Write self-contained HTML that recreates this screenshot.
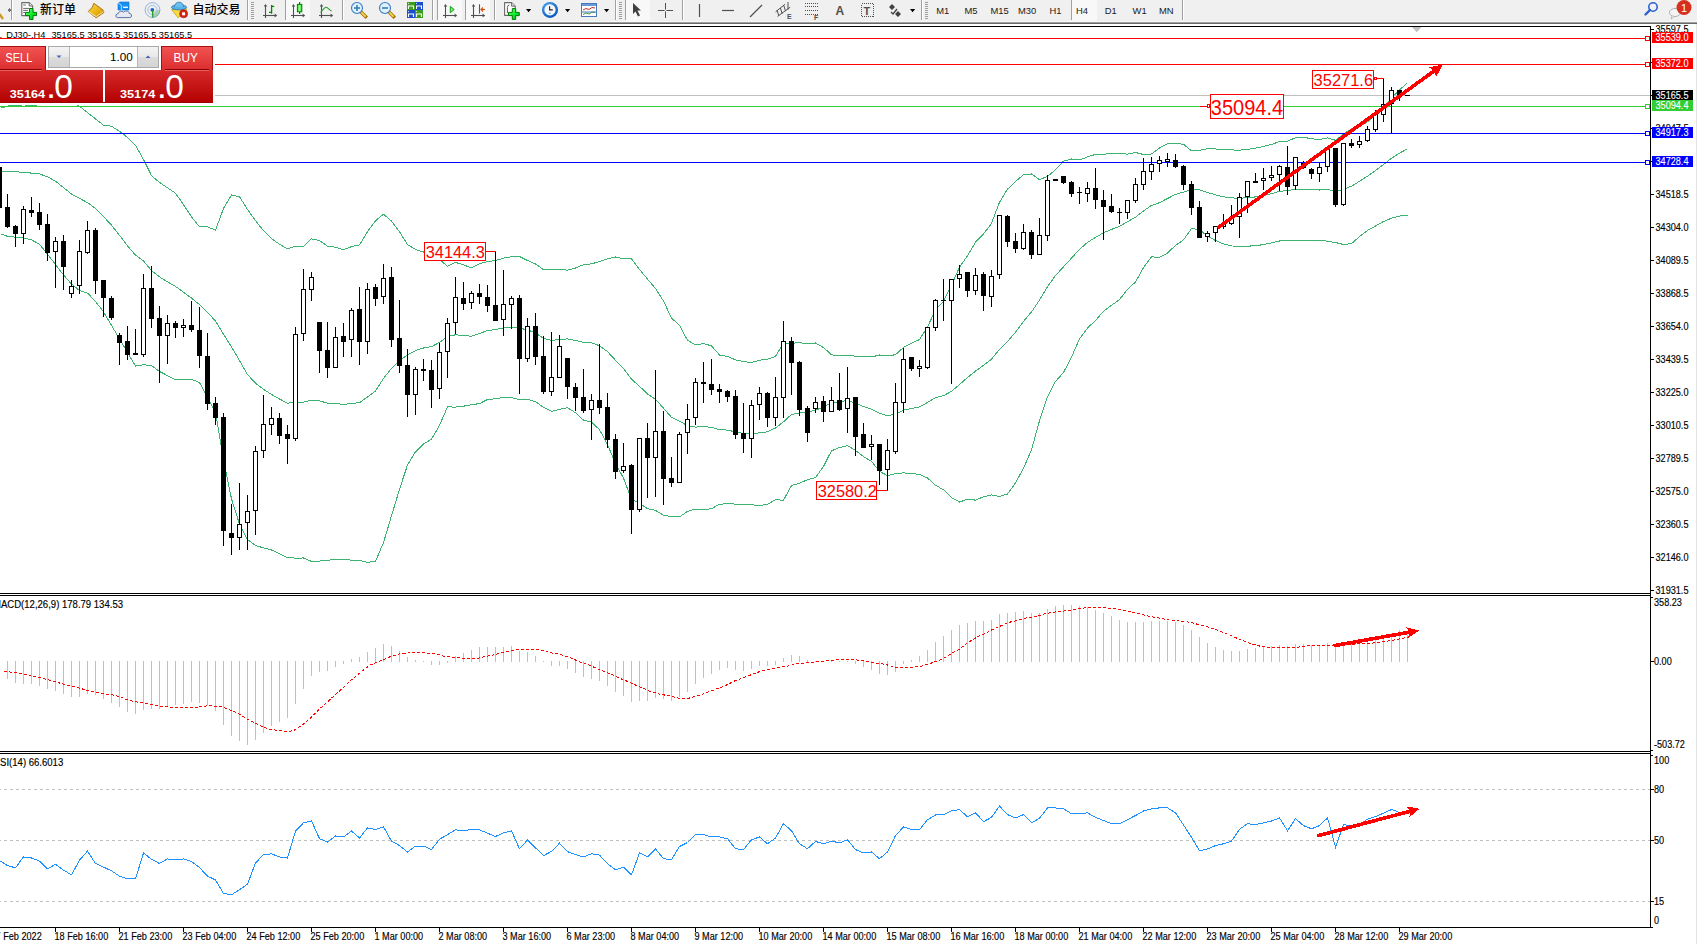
<!DOCTYPE html>
<html><head><meta charset="utf-8"><title>MT4 DJ30 H4</title>
<style>
html,body{margin:0;padding:0;background:#fff;}
body{width:1697px;height:944px;overflow:hidden;position:relative;}
svg{position:absolute;left:0;top:0;display:block;}
</style></head>
<body>
<svg width="1697" height="944" viewBox="0 0 1697 944">
<rect x="0" y="0" width="1697" height="944" fill="#fff"/>
<text x="-0.6" y="38.4" font-family="'Liberation Sans', Arial, sans-serif" font-size="9.7px" fill="#000">.</text>
<text x="6.3" y="38.4" textLength="39" lengthAdjust="spacingAndGlyphs" font-family="'Liberation Sans', Arial, sans-serif" font-size="9.7px" fill="#000">DJ30-,H4</text>
<text x="51.4" y="38.4" textLength="140.7" lengthAdjust="spacingAndGlyphs" font-family="'Liberation Sans', Arial, sans-serif" font-size="9.7px" fill="#000">35165.5 35165.5 35165.5 35165.5</text>
<g shape-rendering="crispEdges">
<polyline points="0.5,171.0 7.5,171.3 15.5,171.8 23.5,172.3 31.5,173.1 39.5,173.9 47.5,176.8 55.5,181.2 63.5,187.6 71.5,194.0 79.5,198.4 87.5,202.6 95.5,208.6 103.5,216.6 111.5,225.2 119.5,235.3 127.5,245.8 135.5,255.1 143.5,261.1 151.5,270.6 159.5,276.9 167.5,281.8 175.5,286.4 183.5,292.2 191.5,298.1 199.5,304.6 207.5,312.2 215.5,321.1 223.5,334.2 231.5,346.9 239.5,360.5 247.5,374.6 255.5,383.1 263.5,389.4 271.5,394.4 279.5,399.0 287.5,403.2 295.5,402.1 303.5,402.2 311.5,400.1 319.5,400.9 327.5,403.1 335.5,403.6 343.5,404.4 351.5,403.4 359.5,402.7 367.5,396.9 375.5,391.0 383.5,378.4 391.5,368.4 399.5,360.6 407.5,354.8 415.5,350.6 423.5,348.0 431.5,346.6 439.5,342.4 447.5,336.6 455.5,334.8 463.5,335.5 471.5,336.3 479.5,333.6 487.5,330.5 495.5,329.7 503.5,327.8 511.5,327.2 519.5,328.1 527.5,329.9 535.5,332.8 543.5,338.5 551.5,340.4 559.5,339.4 567.5,338.9 575.5,340.4 583.5,342.4 591.5,342.9 599.5,345.7 607.5,351.6 615.5,360.3 623.5,368.4 631.5,379.2 639.5,386.3 647.5,393.9 655.5,399.4 663.5,408.1 671.5,417.4 679.5,421.1 687.5,425.8 695.5,427.1 703.5,426.6 711.5,427.3 719.5,429.6 727.5,430.1 735.5,431.9 743.5,433.4 751.5,433.6 759.5,432.9 767.5,431.8 775.5,428.0 783.5,421.8 791.5,414.4 799.5,413.0 807.5,411.8 815.5,410.3 823.5,406.9 831.5,402.8 839.5,401.6 847.5,400.6 855.5,403.3 863.5,406.5 871.5,409.2 879.5,413.1 887.5,415.8 895.5,414.1 903.5,410.1 911.5,408.4 919.5,407.0 927.5,402.4 935.5,397.6 943.5,395.6 951.5,391.4 959.5,384.6 967.5,377.5 975.5,371.1 983.5,365.4 991.5,359.1 999.5,349.4 1007.5,341.6 1015.5,332.2 1023.5,321.4 1031.5,311.9 1039.5,300.1 1047.5,286.6 1055.5,275.6 1063.5,266.8 1071.5,258.1 1079.5,249.4 1087.5,242.4 1095.5,237.4 1103.5,232.8 1111.5,229.4 1119.5,226.3 1127.5,221.8 1135.5,217.2 1143.5,211.0 1151.5,205.4 1159.5,202.7 1167.5,198.5 1175.5,194.4 1183.5,192.1 1191.5,189.7 1199.5,189.8 1207.5,192.5 1215.5,194.8 1223.5,196.8 1231.5,197.9 1239.5,198.2 1247.5,197.8 1255.5,196.9 1263.5,195.5 1271.5,193.7 1279.5,191.3 1287.5,190.7 1295.5,189.3 1303.5,189.2 1311.5,189.7 1319.5,190.0 1327.5,189.5 1335.5,191.4 1343.5,189.3 1351.5,186.2 1359.5,181.3 1367.5,176.2 1375.5,170.6 1383.5,164.6 1391.5,158.2 1399.5,153.1 1407.5,148.8" fill="none" stroke="#3cb371" stroke-width="1" />
<polyline points="0.5,233.8 7.5,236.4 15.5,237.2 23.5,238.0 31.5,239.8 39.5,244.3 47.5,254.1 55.5,264.6 63.5,274.9 71.5,284.0 79.5,290.5 87.5,293.1 95.5,301.4 103.5,311.9 111.5,325.4 119.5,339.0 127.5,352.5 135.5,366.1 143.5,364.8 151.5,365.5 159.5,371.5 167.5,375.6 175.5,379.7 183.5,379.9 191.5,379.4 199.5,382.5 207.5,397.6 215.5,411.9 223.5,460.1 231.5,498.8 239.5,524.3 247.5,539.6 255.5,545.5 263.5,547.9 271.5,550.0 279.5,553.8 287.5,557.6 295.5,558.1 303.5,558.0 311.5,561.4 319.5,561.1 327.5,560.1 335.5,559.8 343.5,559.1 351.5,560.2 359.5,560.5 367.5,562.3 375.5,561.3 383.5,542.5 391.5,515.8 399.5,489.3 407.5,464.9 415.5,451.8 423.5,444.0 431.5,439.2 439.5,425.4 447.5,406.9 455.5,407.1 463.5,406.2 471.5,404.7 479.5,403.6 487.5,399.5 495.5,398.8 503.5,397.5 511.5,397.6 519.5,399.6 527.5,399.3 535.5,401.7 543.5,407.3 551.5,411.3 559.5,409.3 567.5,407.7 575.5,412.8 583.5,420.1 591.5,422.0 599.5,429.7 607.5,444.4 615.5,463.6 623.5,478.1 631.5,499.6 639.5,503.1 647.5,508.7 655.5,510.3 663.5,515.3 671.5,516.7 679.5,517.0 687.5,511.3 695.5,509.2 703.5,509.6 711.5,508.8 719.5,504.2 727.5,503.7 735.5,504.1 743.5,505.0 751.5,504.8 759.5,505.4 767.5,504.4 775.5,499.6 783.5,500.3 791.5,485.5 799.5,483.3 807.5,479.6 815.5,477.6 823.5,466.4 831.5,450.8 839.5,447.5 847.5,445.7 855.5,450.4 863.5,456.6 871.5,461.4 879.5,471.3 887.5,475.7 895.5,473.6 903.5,472.9 911.5,473.5 919.5,474.4 927.5,478.0 935.5,485.2 943.5,489.8 951.5,497.7 959.5,502.0 967.5,499.3 975.5,500.1 983.5,496.7 991.5,494.9 999.5,496.6 1007.5,494.0 1015.5,482.9 1023.5,468.2 1031.5,449.9 1039.5,420.7 1047.5,396.9 1055.5,381.4 1063.5,372.5 1071.5,357.1 1079.5,338.8 1087.5,328.0 1095.5,320.5 1103.5,311.2 1111.5,305.3 1119.5,299.6 1127.5,289.4 1135.5,282.0 1143.5,267.5 1151.5,256.8 1159.5,257.4 1167.5,253.1 1175.5,245.3 1183.5,239.9 1191.5,228.6 1199.5,229.5 1207.5,236.2 1215.5,240.5 1223.5,243.9 1231.5,246.0 1239.5,246.1 1247.5,246.2 1255.5,245.7 1263.5,244.6 1271.5,242.9 1279.5,241.0 1287.5,240.2 1295.5,240.9 1303.5,240.9 1311.5,240.7 1319.5,240.3 1327.5,241.2 1335.5,242.5 1343.5,244.5 1351.5,243.6 1359.5,236.6 1367.5,230.4 1375.5,226.0 1383.5,221.5 1391.5,218.2 1399.5,216.1 1407.5,215.1" fill="none" stroke="#3cb371" stroke-width="1" />
<polyline points="0.5,107.5 3.5,107.5 5.5,106.5 11.5,105.5 20.5,105.5 23.5,106.5 27.5,105.5 35.5,105.5 38.5,106.5 76.5,106.5 78.5,105.5 80.0,106.5 87.5,112.6 95.5,118.9 103.5,125.2 111.5,126.2 119.5,131.3 127.5,137.4 135.5,145.3 143.5,159.5 151.5,175.6 159.5,182.4 167.5,187.9 175.5,193.2 183.5,204.6 191.5,216.8 199.5,226.8 207.5,226.8 215.5,230.2 223.5,208.4 231.5,194.9 239.5,196.7 247.5,209.5 255.5,220.6 263.5,230.8 271.5,238.7 279.5,244.2 287.5,248.8 295.5,246.2 303.5,246.4 311.5,238.8 319.5,240.6 327.5,246.1 335.5,247.3 343.5,249.7 351.5,246.6 359.5,244.9 367.5,231.6 375.5,220.7 383.5,214.2 391.5,221.1 399.5,231.8 407.5,244.6 415.5,249.5 423.5,252.0 431.5,254.0 439.5,259.4 447.5,266.3 455.5,262.4 463.5,264.8 471.5,267.9 479.5,263.6 487.5,261.5 495.5,260.6 503.5,258.1 511.5,256.8 519.5,256.5 527.5,260.5 535.5,263.9 543.5,269.7 551.5,269.4 559.5,269.4 567.5,270.2 575.5,268.0 583.5,264.7 591.5,263.8 599.5,261.7 607.5,258.7 615.5,257.0 623.5,258.7 631.5,258.9 639.5,269.5 647.5,279.1 655.5,288.5 663.5,301.0 671.5,318.1 679.5,325.3 687.5,340.3 695.5,344.9 703.5,343.7 711.5,345.8 719.5,355.0 727.5,356.5 735.5,359.8 743.5,361.7 751.5,362.4 759.5,360.3 767.5,359.1 775.5,356.4 783.5,343.2 791.5,343.3 799.5,342.7 807.5,343.9 815.5,343.0 823.5,347.5 831.5,354.8 839.5,355.7 847.5,355.4 855.5,356.2 863.5,356.4 871.5,357.0 879.5,355.0 887.5,355.9 895.5,354.7 903.5,347.4 911.5,343.2 919.5,339.6 927.5,326.9 935.5,310.0 943.5,301.4 951.5,285.1 959.5,267.2 967.5,255.7 975.5,242.2 983.5,234.0 991.5,223.4 999.5,202.2 1007.5,189.2 1015.5,181.5 1023.5,174.6 1031.5,174.0 1039.5,179.6 1047.5,176.4 1055.5,169.8 1063.5,161.1 1071.5,159.0 1079.5,160.0 1087.5,156.9 1095.5,154.4 1103.5,154.3 1111.5,153.5 1119.5,153.1 1127.5,154.2 1135.5,152.5 1143.5,154.5 1151.5,154.0 1159.5,147.9 1167.5,143.9 1175.5,143.5 1183.5,144.2 1191.5,150.8 1199.5,150.2 1207.5,148.8 1215.5,149.0 1223.5,149.6 1231.5,149.9 1239.5,150.2 1247.5,149.4 1255.5,148.2 1263.5,146.4 1271.5,144.4 1279.5,141.6 1287.5,141.1 1295.5,137.7 1303.5,137.4 1311.5,138.6 1319.5,139.7 1327.5,137.8 1335.5,140.3 1343.5,134.1 1351.5,128.8 1359.5,126.1 1367.5,121.9 1375.5,115.1 1383.5,107.7 1391.5,98.2 1399.5,90.1 1407.5,82.5" fill="none" stroke="#3cb371" stroke-width="1" />
</g>
<g shape-rendering="crispEdges">
<rect x="0" y="38" width="1650" height="1" fill="#ff0000"/>
<rect x="0" y="64" width="1650" height="1" fill="#ff0000"/>
<rect x="0" y="95" width="1650" height="1" fill="#c0c0c0"/>
<rect x="0" y="106" width="1650" height="1" fill="#32cd32"/>
<rect x="0" y="133" width="1650" height="1" fill="#0000ff"/>
<rect x="0" y="162" width="1650" height="1" fill="#0000ff"/>
</g>
<g shape-rendering="crispEdges">
<rect x="-1" y="160" width="1" height="50" fill="#000"/>
<rect x="-3" y="167" width="5" height="41" fill="#000"/>
<rect x="7" y="194" width="1" height="34" fill="#000"/>
<rect x="5" y="207" width="5" height="20" fill="#000"/>
<rect x="15" y="225" width="1" height="22" fill="#000"/>
<rect x="13" y="226" width="5" height="8" fill="#000"/>
<rect x="23" y="206" width="1" height="38" fill="#000"/>
<rect x="21.5" y="209.5" width="4" height="24" fill="#fff" stroke="#000" stroke-width="1"/>
<rect x="31" y="197" width="1" height="20" fill="#000"/>
<rect x="29" y="210" width="5" height="3" fill="#000"/>
<rect x="39" y="203" width="1" height="27" fill="#000"/>
<rect x="37" y="212" width="5" height="13" fill="#000"/>
<rect x="47" y="214" width="1" height="47" fill="#000"/>
<rect x="45" y="224" width="5" height="29" fill="#000"/>
<rect x="55" y="237" width="1" height="51" fill="#000"/>
<rect x="53.5" y="241.5" width="4" height="10" fill="#fff" stroke="#000" stroke-width="1"/>
<rect x="63" y="235" width="1" height="55" fill="#000"/>
<rect x="61" y="241" width="5" height="26" fill="#000"/>
<rect x="71" y="280" width="1" height="18" fill="#000"/>
<rect x="69.5" y="286.5" width="4" height="7" fill="#fff" stroke="#000" stroke-width="1"/>
<rect x="79" y="240" width="1" height="54" fill="#000"/>
<rect x="77.5" y="251.5" width="4" height="34" fill="#fff" stroke="#000" stroke-width="1"/>
<rect x="87" y="221" width="1" height="33" fill="#000"/>
<rect x="85.5" y="230.5" width="4" height="22" fill="#fff" stroke="#000" stroke-width="1"/>
<rect x="95" y="228" width="1" height="66" fill="#000"/>
<rect x="93" y="230" width="5" height="51" fill="#000"/>
<rect x="103" y="280" width="1" height="37" fill="#000"/>
<rect x="101" y="280" width="5" height="18" fill="#000"/>
<rect x="111" y="296" width="1" height="24" fill="#000"/>
<rect x="109" y="298" width="5" height="20" fill="#000"/>
<rect x="119" y="333" width="1" height="32" fill="#000"/>
<rect x="117" y="335" width="5" height="8" fill="#000"/>
<rect x="127" y="326" width="1" height="34" fill="#000"/>
<rect x="125" y="341" width="5" height="14" fill="#000"/>
<rect x="135" y="329" width="1" height="26" fill="#000"/>
<rect x="133" y="353" width="5" height="2" fill="#000"/>
<rect x="143" y="274" width="1" height="83" fill="#000"/>
<rect x="141.5" y="288.5" width="4" height="66" fill="#fff" stroke="#000" stroke-width="1"/>
<rect x="151" y="266" width="1" height="62" fill="#000"/>
<rect x="149" y="288" width="5" height="31" fill="#000"/>
<rect x="159" y="306" width="1" height="77" fill="#000"/>
<rect x="157" y="318" width="5" height="18" fill="#000"/>
<rect x="167" y="315" width="1" height="49" fill="#000"/>
<rect x="165.5" y="323.5" width="4" height="12" fill="#fff" stroke="#000" stroke-width="1"/>
<rect x="175" y="321" width="1" height="17" fill="#000"/>
<rect x="173" y="323" width="5" height="5" fill="#000"/>
<rect x="183" y="319" width="1" height="18" fill="#000"/>
<rect x="181.5" y="325.5" width="4" height="2" fill="#fff" stroke="#000" stroke-width="1"/>
<rect x="191" y="301" width="1" height="31" fill="#000"/>
<rect x="189" y="325" width="5" height="5" fill="#000"/>
<rect x="199" y="307" width="1" height="61" fill="#000"/>
<rect x="197" y="330" width="5" height="26" fill="#000"/>
<rect x="207" y="333" width="1" height="77" fill="#000"/>
<rect x="205" y="356" width="5" height="48" fill="#000"/>
<rect x="215" y="397" width="1" height="28" fill="#000"/>
<rect x="213" y="403" width="5" height="15" fill="#000"/>
<rect x="223" y="413" width="1" height="133" fill="#000"/>
<rect x="221" y="417" width="5" height="114" fill="#000"/>
<rect x="231" y="504" width="1" height="51" fill="#000"/>
<rect x="229" y="533" width="5" height="5" fill="#000"/>
<rect x="239" y="483" width="1" height="67" fill="#000"/>
<rect x="237.5" y="524.5" width="4" height="13" fill="#fff" stroke="#000" stroke-width="1"/>
<rect x="247" y="495" width="1" height="55" fill="#000"/>
<rect x="245.5" y="511.5" width="4" height="11" fill="#fff" stroke="#000" stroke-width="1"/>
<rect x="255" y="446" width="1" height="89" fill="#000"/>
<rect x="253.5" y="451.5" width="4" height="59" fill="#fff" stroke="#000" stroke-width="1"/>
<rect x="263" y="395" width="1" height="63" fill="#000"/>
<rect x="261.5" y="424.5" width="4" height="26" fill="#fff" stroke="#000" stroke-width="1"/>
<rect x="271" y="407" width="1" height="28" fill="#000"/>
<rect x="269.5" y="418.5" width="4" height="6" fill="#fff" stroke="#000" stroke-width="1"/>
<rect x="279" y="413" width="1" height="31" fill="#000"/>
<rect x="277" y="418" width="5" height="18" fill="#000"/>
<rect x="287" y="425" width="1" height="39" fill="#000"/>
<rect x="285" y="434" width="5" height="5" fill="#000"/>
<rect x="295" y="327" width="1" height="114" fill="#000"/>
<rect x="293.5" y="334.5" width="4" height="104" fill="#fff" stroke="#000" stroke-width="1"/>
<rect x="303" y="269" width="1" height="72" fill="#000"/>
<rect x="301.5" y="289.5" width="4" height="44" fill="#fff" stroke="#000" stroke-width="1"/>
<rect x="311" y="272" width="1" height="29" fill="#000"/>
<rect x="309.5" y="277.5" width="4" height="12" fill="#fff" stroke="#000" stroke-width="1"/>
<rect x="319" y="322" width="1" height="51" fill="#000"/>
<rect x="317" y="322" width="5" height="29" fill="#000"/>
<rect x="327" y="322" width="1" height="56" fill="#000"/>
<rect x="325" y="350" width="5" height="18" fill="#000"/>
<rect x="335" y="327" width="1" height="41" fill="#000"/>
<rect x="333.5" y="337.5" width="4" height="30" fill="#fff" stroke="#000" stroke-width="1"/>
<rect x="343" y="323" width="1" height="34" fill="#000"/>
<rect x="341" y="336" width="5" height="6" fill="#000"/>
<rect x="351" y="308" width="1" height="49" fill="#000"/>
<rect x="349.5" y="310.5" width="4" height="29" fill="#fff" stroke="#000" stroke-width="1"/>
<rect x="359" y="287" width="1" height="78" fill="#000"/>
<rect x="357" y="309" width="5" height="33" fill="#000"/>
<rect x="367" y="283" width="1" height="71" fill="#000"/>
<rect x="365.5" y="289.5" width="4" height="52" fill="#fff" stroke="#000" stroke-width="1"/>
<rect x="375" y="284" width="1" height="22" fill="#000"/>
<rect x="373" y="287" width="5" height="12" fill="#000"/>
<rect x="383" y="264" width="1" height="40" fill="#000"/>
<rect x="381.5" y="278.5" width="4" height="18" fill="#fff" stroke="#000" stroke-width="1"/>
<rect x="391" y="267" width="1" height="80" fill="#000"/>
<rect x="389" y="277" width="5" height="63" fill="#000"/>
<rect x="399" y="300" width="1" height="73" fill="#000"/>
<rect x="397" y="338" width="5" height="28" fill="#000"/>
<rect x="407" y="349" width="1" height="68" fill="#000"/>
<rect x="405" y="365" width="5" height="30" fill="#000"/>
<rect x="415" y="367" width="1" height="48" fill="#000"/>
<rect x="413.5" y="369.5" width="4" height="25" fill="#fff" stroke="#000" stroke-width="1"/>
<rect x="423" y="359" width="1" height="22" fill="#000"/>
<rect x="421" y="369" width="5" height="2" fill="#000"/>
<rect x="431" y="360" width="1" height="48" fill="#000"/>
<rect x="429" y="370" width="5" height="20" fill="#000"/>
<rect x="439" y="343" width="1" height="56" fill="#000"/>
<rect x="437.5" y="352.5" width="4" height="36" fill="#fff" stroke="#000" stroke-width="1"/>
<rect x="447" y="318" width="1" height="60" fill="#000"/>
<rect x="445.5" y="323.5" width="4" height="28" fill="#fff" stroke="#000" stroke-width="1"/>
<rect x="455" y="277" width="1" height="57" fill="#000"/>
<rect x="453.5" y="297.5" width="4" height="25" fill="#fff" stroke="#000" stroke-width="1"/>
<rect x="463" y="282" width="1" height="28" fill="#000"/>
<rect x="461" y="298" width="5" height="6" fill="#000"/>
<rect x="471" y="291" width="1" height="18" fill="#000"/>
<rect x="469.5" y="293.5" width="4" height="9" fill="#fff" stroke="#000" stroke-width="1"/>
<rect x="479" y="284" width="1" height="20" fill="#000"/>
<rect x="477" y="293" width="5" height="4" fill="#000"/>
<rect x="487" y="285" width="1" height="27" fill="#000"/>
<rect x="485" y="297" width="5" height="9" fill="#000"/>
<rect x="495" y="251" width="1" height="70" fill="#000"/>
<rect x="493" y="305" width="5" height="16" fill="#000"/>
<rect x="503" y="270" width="1" height="66" fill="#000"/>
<rect x="501.5" y="304.5" width="4" height="15" fill="#fff" stroke="#000" stroke-width="1"/>
<rect x="511" y="296" width="1" height="33" fill="#000"/>
<rect x="509.5" y="298.5" width="4" height="6" fill="#fff" stroke="#000" stroke-width="1"/>
<rect x="519" y="295" width="1" height="99" fill="#000"/>
<rect x="517" y="298" width="5" height="61" fill="#000"/>
<rect x="527" y="318" width="1" height="44" fill="#000"/>
<rect x="525.5" y="326.5" width="4" height="32" fill="#fff" stroke="#000" stroke-width="1"/>
<rect x="535" y="313" width="1" height="52" fill="#000"/>
<rect x="533" y="326" width="5" height="31" fill="#000"/>
<rect x="543" y="336" width="1" height="58" fill="#000"/>
<rect x="541" y="356" width="5" height="36" fill="#000"/>
<rect x="551" y="332" width="1" height="64" fill="#000"/>
<rect x="549.5" y="377.5" width="4" height="14" fill="#fff" stroke="#000" stroke-width="1"/>
<rect x="559" y="335" width="1" height="43" fill="#000"/>
<rect x="557.5" y="346.5" width="4" height="31" fill="#fff" stroke="#000" stroke-width="1"/>
<rect x="567" y="358" width="1" height="41" fill="#000"/>
<rect x="565" y="358" width="5" height="29" fill="#000"/>
<rect x="575" y="383" width="1" height="28" fill="#000"/>
<rect x="573" y="387" width="5" height="11" fill="#000"/>
<rect x="583" y="369" width="1" height="44" fill="#000"/>
<rect x="581" y="397" width="5" height="14" fill="#000"/>
<rect x="591" y="394" width="1" height="46" fill="#000"/>
<rect x="589.5" y="400.5" width="4" height="9" fill="#fff" stroke="#000" stroke-width="1"/>
<rect x="599" y="344" width="1" height="70" fill="#000"/>
<rect x="597" y="400" width="5" height="8" fill="#000"/>
<rect x="607" y="393" width="1" height="55" fill="#000"/>
<rect x="605" y="407" width="5" height="33" fill="#000"/>
<rect x="615" y="434" width="1" height="45" fill="#000"/>
<rect x="613" y="439" width="5" height="33" fill="#000"/>
<rect x="623" y="443" width="1" height="30" fill="#000"/>
<rect x="621.5" y="466.5" width="4" height="4" fill="#fff" stroke="#000" stroke-width="1"/>
<rect x="631" y="464" width="1" height="70" fill="#000"/>
<rect x="629" y="465" width="5" height="45" fill="#000"/>
<rect x="639" y="438" width="1" height="74" fill="#000"/>
<rect x="637.5" y="438.5" width="4" height="71" fill="#fff" stroke="#000" stroke-width="1"/>
<rect x="647" y="423" width="1" height="75" fill="#000"/>
<rect x="645" y="438" width="5" height="20" fill="#000"/>
<rect x="655" y="370" width="1" height="127" fill="#000"/>
<rect x="653.5" y="431.5" width="4" height="26" fill="#fff" stroke="#000" stroke-width="1"/>
<rect x="663" y="411" width="1" height="94" fill="#000"/>
<rect x="661" y="431" width="5" height="48" fill="#000"/>
<rect x="671" y="457" width="1" height="30" fill="#000"/>
<rect x="669" y="478" width="5" height="5" fill="#000"/>
<rect x="679" y="432" width="1" height="51" fill="#000"/>
<rect x="677.5" y="434.5" width="4" height="48" fill="#fff" stroke="#000" stroke-width="1"/>
<rect x="687" y="404" width="1" height="50" fill="#000"/>
<rect x="685.5" y="419.5" width="4" height="13" fill="#fff" stroke="#000" stroke-width="1"/>
<rect x="695" y="378" width="1" height="47" fill="#000"/>
<rect x="693.5" y="382.5" width="4" height="35" fill="#fff" stroke="#000" stroke-width="1"/>
<rect x="703" y="362" width="1" height="41" fill="#000"/>
<rect x="701" y="382" width="5" height="2" fill="#000"/>
<rect x="711" y="359" width="1" height="36" fill="#000"/>
<rect x="709" y="384" width="5" height="6" fill="#000"/>
<rect x="719" y="384" width="1" height="19" fill="#000"/>
<rect x="717" y="389" width="5" height="3" fill="#000"/>
<rect x="727" y="390" width="1" height="12" fill="#000"/>
<rect x="725" y="391" width="5" height="6" fill="#000"/>
<rect x="735" y="390" width="1" height="49" fill="#000"/>
<rect x="733" y="396" width="5" height="39" fill="#000"/>
<rect x="743" y="403" width="1" height="50" fill="#000"/>
<rect x="741" y="433" width="5" height="6" fill="#000"/>
<rect x="751" y="400" width="1" height="58" fill="#000"/>
<rect x="749.5" y="405.5" width="4" height="33" fill="#fff" stroke="#000" stroke-width="1"/>
<rect x="759" y="387" width="1" height="33" fill="#000"/>
<rect x="757.5" y="393.5" width="4" height="11" fill="#fff" stroke="#000" stroke-width="1"/>
<rect x="767" y="392" width="1" height="35" fill="#000"/>
<rect x="765" y="393" width="5" height="25" fill="#000"/>
<rect x="775" y="377" width="1" height="49" fill="#000"/>
<rect x="773.5" y="397.5" width="4" height="20" fill="#fff" stroke="#000" stroke-width="1"/>
<rect x="783" y="321" width="1" height="97" fill="#000"/>
<rect x="781.5" y="341.5" width="4" height="56" fill="#fff" stroke="#000" stroke-width="1"/>
<rect x="791" y="337" width="1" height="58" fill="#000"/>
<rect x="789" y="341" width="5" height="22" fill="#000"/>
<rect x="799" y="361" width="1" height="55" fill="#000"/>
<rect x="797" y="362" width="5" height="48" fill="#000"/>
<rect x="807" y="406" width="1" height="36" fill="#000"/>
<rect x="805" y="408" width="5" height="25" fill="#000"/>
<rect x="815" y="397" width="1" height="16" fill="#000"/>
<rect x="813.5" y="402.5" width="4" height="6" fill="#fff" stroke="#000" stroke-width="1"/>
<rect x="823" y="396" width="1" height="26" fill="#000"/>
<rect x="821" y="401" width="5" height="11" fill="#000"/>
<rect x="831" y="387" width="1" height="25" fill="#000"/>
<rect x="829.5" y="400.5" width="4" height="11" fill="#fff" stroke="#000" stroke-width="1"/>
<rect x="839" y="373" width="1" height="38" fill="#000"/>
<rect x="837" y="400" width="5" height="10" fill="#000"/>
<rect x="847" y="367" width="1" height="66" fill="#000"/>
<rect x="845.5" y="398.5" width="4" height="10" fill="#fff" stroke="#000" stroke-width="1"/>
<rect x="855" y="397" width="1" height="59" fill="#000"/>
<rect x="853" y="397" width="5" height="40" fill="#000"/>
<rect x="863" y="423" width="1" height="25" fill="#000"/>
<rect x="861" y="434" width="5" height="14" fill="#000"/>
<rect x="871" y="435" width="1" height="25" fill="#000"/>
<rect x="869.5" y="444.5" width="4" height="2" fill="#fff" stroke="#000" stroke-width="1"/>
<rect x="879" y="444" width="1" height="41" fill="#000"/>
<rect x="877" y="444" width="5" height="27" fill="#000"/>
<rect x="887" y="439" width="1" height="51" fill="#000"/>
<rect x="885.5" y="450.5" width="4" height="19" fill="#fff" stroke="#000" stroke-width="1"/>
<rect x="895" y="383" width="1" height="71" fill="#000"/>
<rect x="893.5" y="402.5" width="4" height="49" fill="#fff" stroke="#000" stroke-width="1"/>
<rect x="903" y="348" width="1" height="65" fill="#000"/>
<rect x="901.5" y="359.5" width="4" height="43" fill="#fff" stroke="#000" stroke-width="1"/>
<rect x="911" y="357" width="1" height="14" fill="#000"/>
<rect x="909" y="357" width="5" height="12" fill="#000"/>
<rect x="919" y="360" width="1" height="17" fill="#000"/>
<rect x="917.5" y="366.5" width="4" height="2" fill="#fff" stroke="#000" stroke-width="1"/>
<rect x="927" y="327" width="1" height="42" fill="#000"/>
<rect x="925.5" y="327.5" width="4" height="40" fill="#fff" stroke="#000" stroke-width="1"/>
<rect x="935" y="299" width="1" height="32" fill="#000"/>
<rect x="933.5" y="300.5" width="4" height="27" fill="#fff" stroke="#000" stroke-width="1"/>
<rect x="943" y="279" width="1" height="42" fill="#000"/>
<rect x="941" y="300" width="5" height="1" fill="#000"/>
<rect x="951" y="279" width="1" height="105" fill="#000"/>
<rect x="949.5" y="279.5" width="4" height="21" fill="#fff" stroke="#000" stroke-width="1"/>
<rect x="959" y="265" width="1" height="23" fill="#000"/>
<rect x="957.5" y="274.5" width="4" height="4" fill="#fff" stroke="#000" stroke-width="1"/>
<rect x="967" y="272" width="1" height="25" fill="#000"/>
<rect x="965" y="272" width="5" height="19" fill="#000"/>
<rect x="975" y="268" width="1" height="27" fill="#000"/>
<rect x="973.5" y="275.5" width="4" height="15" fill="#fff" stroke="#000" stroke-width="1"/>
<rect x="983" y="272" width="1" height="39" fill="#000"/>
<rect x="981" y="274" width="5" height="22" fill="#000"/>
<rect x="991" y="270" width="1" height="37" fill="#000"/>
<rect x="989.5" y="276.5" width="4" height="20" fill="#fff" stroke="#000" stroke-width="1"/>
<rect x="999" y="215" width="1" height="64" fill="#000"/>
<rect x="997.5" y="215.5" width="4" height="59" fill="#fff" stroke="#000" stroke-width="1"/>
<rect x="1007" y="215" width="1" height="32" fill="#000"/>
<rect x="1005" y="216" width="5" height="26" fill="#000"/>
<rect x="1015" y="233" width="1" height="20" fill="#000"/>
<rect x="1013" y="241" width="5" height="8" fill="#000"/>
<rect x="1023" y="224" width="1" height="26" fill="#000"/>
<rect x="1021.5" y="232.5" width="4" height="16" fill="#fff" stroke="#000" stroke-width="1"/>
<rect x="1031" y="230" width="1" height="29" fill="#000"/>
<rect x="1029" y="232" width="5" height="23" fill="#000"/>
<rect x="1039" y="218" width="1" height="37" fill="#000"/>
<rect x="1037.5" y="235.5" width="4" height="19" fill="#fff" stroke="#000" stroke-width="1"/>
<rect x="1047" y="175" width="1" height="66" fill="#000"/>
<rect x="1045.5" y="180.5" width="4" height="55" fill="#fff" stroke="#000" stroke-width="1"/>
<rect x="1055" y="179" width="1" height="2" fill="#000"/>
<rect x="1053" y="179" width="5" height="2" fill="#000"/>
<rect x="1063" y="176" width="1" height="8" fill="#000"/>
<rect x="1061" y="176" width="5" height="7" fill="#000"/>
<rect x="1071" y="181" width="1" height="16" fill="#000"/>
<rect x="1069" y="182" width="5" height="12" fill="#000"/>
<rect x="1079" y="187" width="1" height="17" fill="#000"/>
<rect x="1077" y="192" width="5" height="1" fill="#000"/>
<rect x="1087" y="182" width="1" height="20" fill="#000"/>
<rect x="1085.5" y="188.5" width="4" height="5" fill="#fff" stroke="#000" stroke-width="1"/>
<rect x="1095" y="168" width="1" height="41" fill="#000"/>
<rect x="1093" y="188" width="5" height="12" fill="#000"/>
<rect x="1103" y="190" width="1" height="50" fill="#000"/>
<rect x="1101" y="200" width="5" height="7" fill="#000"/>
<rect x="1111" y="194" width="1" height="19" fill="#000"/>
<rect x="1109" y="206" width="5" height="6" fill="#000"/>
<rect x="1119" y="208" width="1" height="16" fill="#000"/>
<rect x="1117" y="212" width="5" height="1" fill="#000"/>
<rect x="1127" y="200" width="1" height="19" fill="#000"/>
<rect x="1125.5" y="200.5" width="4" height="12" fill="#fff" stroke="#000" stroke-width="1"/>
<rect x="1135" y="178" width="1" height="25" fill="#000"/>
<rect x="1133.5" y="184.5" width="4" height="16" fill="#fff" stroke="#000" stroke-width="1"/>
<rect x="1143" y="158" width="1" height="32" fill="#000"/>
<rect x="1141.5" y="171.5" width="4" height="13" fill="#fff" stroke="#000" stroke-width="1"/>
<rect x="1151" y="157" width="1" height="23" fill="#000"/>
<rect x="1149.5" y="164.5" width="4" height="7" fill="#fff" stroke="#000" stroke-width="1"/>
<rect x="1159" y="156" width="1" height="16" fill="#000"/>
<rect x="1157.5" y="160.5" width="4" height="3" fill="#fff" stroke="#000" stroke-width="1"/>
<rect x="1167" y="153" width="1" height="14" fill="#000"/>
<rect x="1165.5" y="159.5" width="4" height="2" fill="#fff" stroke="#000" stroke-width="1"/>
<rect x="1175" y="154" width="1" height="14" fill="#000"/>
<rect x="1173" y="160" width="5" height="7" fill="#000"/>
<rect x="1183" y="165" width="1" height="25" fill="#000"/>
<rect x="1181" y="166" width="5" height="19" fill="#000"/>
<rect x="1191" y="181" width="1" height="34" fill="#000"/>
<rect x="1189" y="184" width="5" height="24" fill="#000"/>
<rect x="1199" y="201" width="1" height="37" fill="#000"/>
<rect x="1197" y="207" width="5" height="31" fill="#000"/>
<rect x="1207" y="231" width="1" height="11" fill="#000"/>
<rect x="1205.5" y="233.5" width="4" height="3" fill="#fff" stroke="#000" stroke-width="1"/>
<rect x="1215" y="226" width="1" height="16" fill="#000"/>
<rect x="1213.5" y="226.5" width="4" height="6" fill="#fff" stroke="#000" stroke-width="1"/>
<rect x="1223" y="214" width="1" height="15" fill="#000"/>
<rect x="1221.5" y="223.5" width="4" height="3" fill="#fff" stroke="#000" stroke-width="1"/>
<rect x="1231" y="205" width="1" height="20" fill="#000"/>
<rect x="1229.5" y="218.5" width="4" height="5" fill="#fff" stroke="#000" stroke-width="1"/>
<rect x="1239" y="193" width="1" height="45" fill="#000"/>
<rect x="1237.5" y="197.5" width="4" height="19" fill="#fff" stroke="#000" stroke-width="1"/>
<rect x="1247" y="181" width="1" height="32" fill="#000"/>
<rect x="1245.5" y="181.5" width="4" height="15" fill="#fff" stroke="#000" stroke-width="1"/>
<rect x="1255" y="173" width="1" height="10" fill="#000"/>
<rect x="1253" y="181" width="5" height="2" fill="#000"/>
<rect x="1263" y="168" width="1" height="22" fill="#000"/>
<rect x="1261.5" y="178.5" width="4" height="2" fill="#fff" stroke="#000" stroke-width="1"/>
<rect x="1271" y="166" width="1" height="15" fill="#000"/>
<rect x="1269.5" y="175.5" width="4" height="2" fill="#fff" stroke="#000" stroke-width="1"/>
<rect x="1279" y="165" width="1" height="26" fill="#000"/>
<rect x="1277.5" y="166.5" width="4" height="8" fill="#fff" stroke="#000" stroke-width="1"/>
<rect x="1287" y="146" width="1" height="49" fill="#000"/>
<rect x="1285" y="167" width="5" height="20" fill="#000"/>
<rect x="1295" y="157" width="1" height="33" fill="#000"/>
<rect x="1293.5" y="157.5" width="4" height="28" fill="#fff" stroke="#000" stroke-width="1"/>
<rect x="1303" y="161" width="1" height="8" fill="#000"/>
<rect x="1301" y="163" width="5" height="5" fill="#000"/>
<rect x="1311" y="168" width="1" height="11" fill="#000"/>
<rect x="1309" y="169" width="5" height="5" fill="#000"/>
<rect x="1319" y="162" width="1" height="20" fill="#000"/>
<rect x="1317.5" y="167.5" width="4" height="6" fill="#fff" stroke="#000" stroke-width="1"/>
<rect x="1327" y="147" width="1" height="25" fill="#000"/>
<rect x="1325.5" y="149.5" width="4" height="17" fill="#fff" stroke="#000" stroke-width="1"/>
<rect x="1335" y="148" width="1" height="59" fill="#000"/>
<rect x="1333" y="148" width="5" height="57" fill="#000"/>
<rect x="1343" y="143" width="1" height="63" fill="#000"/>
<rect x="1341.5" y="143.5" width="4" height="61" fill="#fff" stroke="#000" stroke-width="1"/>
<rect x="1351" y="139" width="1" height="9" fill="#000"/>
<rect x="1349" y="143" width="5" height="3" fill="#000"/>
<rect x="1359" y="136" width="1" height="12" fill="#000"/>
<rect x="1357.5" y="141.5" width="4" height="3" fill="#fff" stroke="#000" stroke-width="1"/>
<rect x="1367" y="126" width="1" height="16" fill="#000"/>
<rect x="1365.5" y="129.5" width="4" height="11" fill="#fff" stroke="#000" stroke-width="1"/>
<rect x="1375" y="110" width="1" height="22" fill="#000"/>
<rect x="1373.5" y="114.5" width="4" height="15" fill="#fff" stroke="#000" stroke-width="1"/>
<rect x="1383" y="78" width="1" height="44" fill="#000"/>
<rect x="1381.5" y="104.5" width="4" height="10" fill="#fff" stroke="#000" stroke-width="1"/>
<rect x="1391" y="87" width="1" height="46" fill="#000"/>
<rect x="1389.5" y="90.5" width="4" height="13" fill="#fff" stroke="#000" stroke-width="1"/>
<rect x="1399" y="90" width="1" height="11" fill="#000"/>
<rect x="1397" y="90" width="5" height="5" fill="#000"/>
<rect x="1405" y="95" width="5" height="1" fill="#000"/>
</g>
<g shape-rendering="crispEdges" fill="#c0c0c0">
<rect x="7" y="661" width="1" height="18"/>
<rect x="15" y="661" width="1" height="22"/>
<rect x="23" y="661" width="1" height="23"/>
<rect x="31" y="661" width="1" height="23"/>
<rect x="39" y="661" width="1" height="25"/>
<rect x="47" y="661" width="1" height="28"/>
<rect x="55" y="661" width="1" height="30"/>
<rect x="63" y="661" width="1" height="33"/>
<rect x="71" y="661" width="1" height="36"/>
<rect x="79" y="661" width="1" height="36"/>
<rect x="87" y="661" width="1" height="33"/>
<rect x="95" y="661" width="1" height="34"/>
<rect x="103" y="661" width="1" height="38"/>
<rect x="111" y="661" width="1" height="42"/>
<rect x="119" y="661" width="1" height="46"/>
<rect x="127" y="661" width="1" height="51"/>
<rect x="135" y="661" width="1" height="53"/>
<rect x="143" y="661" width="1" height="49"/>
<rect x="151" y="661" width="1" height="48"/>
<rect x="159" y="661" width="1" height="48"/>
<rect x="167" y="661" width="1" height="46"/>
<rect x="175" y="661" width="1" height="44"/>
<rect x="183" y="661" width="1" height="43"/>
<rect x="191" y="661" width="1" height="41"/>
<rect x="199" y="661" width="1" height="42"/>
<rect x="207" y="661" width="1" height="44"/>
<rect x="215" y="661" width="1" height="50"/>
<rect x="223" y="661" width="1" height="64"/>
<rect x="231" y="661" width="1" height="75"/>
<rect x="239" y="661" width="1" height="80"/>
<rect x="247" y="661" width="1" height="84"/>
<rect x="255" y="661" width="1" height="79"/>
<rect x="263" y="661" width="1" height="72"/>
<rect x="271" y="661" width="1" height="65"/>
<rect x="279" y="661" width="1" height="61"/>
<rect x="287" y="661" width="1" height="57"/>
<rect x="295" y="661" width="1" height="43"/>
<rect x="303" y="661" width="1" height="28"/>
<rect x="311" y="661" width="1" height="15"/>
<rect x="319" y="661" width="1" height="11"/>
<rect x="327" y="661" width="1" height="10"/>
<rect x="335" y="661" width="1" height="6"/>
<rect x="343" y="661" width="1" height="3"/>
<rect x="351" y="659" width="1" height="3"/>
<rect x="359" y="657" width="1" height="5"/>
<rect x="367" y="652" width="1" height="10"/>
<rect x="375" y="648" width="1" height="14"/>
<rect x="383" y="644" width="1" height="18"/>
<rect x="391" y="646" width="1" height="16"/>
<rect x="399" y="651" width="1" height="11"/>
<rect x="407" y="657" width="1" height="5"/>
<rect x="415" y="660" width="1" height="2"/>
<rect x="423" y="661" width="1" height="1"/>
<rect x="431" y="661" width="1" height="4"/>
<rect x="439" y="661" width="1" height="4"/>
<rect x="447" y="661" width="1" height="2"/>
<rect x="455" y="656" width="1" height="6"/>
<rect x="463" y="653" width="1" height="9"/>
<rect x="471" y="650" width="1" height="12"/>
<rect x="479" y="647" width="1" height="15"/>
<rect x="487" y="647" width="1" height="15"/>
<rect x="495" y="647" width="1" height="15"/>
<rect x="503" y="647" width="1" height="15"/>
<rect x="511" y="646" width="1" height="16"/>
<rect x="519" y="651" width="1" height="11"/>
<rect x="527" y="652" width="1" height="10"/>
<rect x="535" y="656" width="1" height="6"/>
<rect x="543" y="661" width="1" height="1"/>
<rect x="551" y="661" width="1" height="5"/>
<rect x="559" y="661" width="1" height="5"/>
<rect x="567" y="661" width="1" height="8"/>
<rect x="575" y="661" width="1" height="12"/>
<rect x="583" y="661" width="1" height="16"/>
<rect x="591" y="661" width="1" height="18"/>
<rect x="599" y="661" width="1" height="20"/>
<rect x="607" y="661" width="1" height="25"/>
<rect x="615" y="661" width="1" height="31"/>
<rect x="623" y="661" width="1" height="35"/>
<rect x="631" y="661" width="1" height="41"/>
<rect x="639" y="661" width="1" height="40"/>
<rect x="647" y="661" width="1" height="40"/>
<rect x="655" y="661" width="1" height="37"/>
<rect x="663" y="661" width="1" height="38"/>
<rect x="671" y="661" width="1" height="40"/>
<rect x="679" y="661" width="1" height="36"/>
<rect x="687" y="661" width="1" height="31"/>
<rect x="695" y="661" width="1" height="23"/>
<rect x="703" y="661" width="1" height="17"/>
<rect x="711" y="661" width="1" height="13"/>
<rect x="719" y="661" width="1" height="9"/>
<rect x="727" y="661" width="1" height="7"/>
<rect x="735" y="661" width="1" height="9"/>
<rect x="743" y="661" width="1" height="10"/>
<rect x="751" y="661" width="1" height="8"/>
<rect x="759" y="661" width="1" height="5"/>
<rect x="767" y="661" width="1" height="5"/>
<rect x="775" y="661" width="1" height="4"/>
<rect x="783" y="658" width="1" height="4"/>
<rect x="791" y="655" width="1" height="7"/>
<rect x="799" y="656" width="1" height="6"/>
<rect x="807" y="660" width="1" height="2"/>
<rect x="815" y="661" width="1" height="1"/>
<rect x="823" y="661" width="1" height="1"/>
<rect x="831" y="661" width="1" height="1"/>
<rect x="839" y="661" width="1" height="1"/>
<rect x="847" y="661" width="1" height="1"/>
<rect x="855" y="661" width="1" height="3"/>
<rect x="863" y="661" width="1" height="6"/>
<rect x="871" y="661" width="1" height="9"/>
<rect x="879" y="661" width="1" height="13"/>
<rect x="887" y="661" width="1" height="14"/>
<rect x="895" y="661" width="1" height="11"/>
<rect x="903" y="661" width="1" height="3"/>
<rect x="911" y="660" width="1" height="2"/>
<rect x="919" y="656" width="1" height="6"/>
<rect x="927" y="650" width="1" height="12"/>
<rect x="935" y="642" width="1" height="20"/>
<rect x="943" y="636" width="1" height="26"/>
<rect x="951" y="630" width="1" height="32"/>
<rect x="959" y="625" width="1" height="37"/>
<rect x="967" y="623" width="1" height="39"/>
<rect x="975" y="621" width="1" height="41"/>
<rect x="983" y="621" width="1" height="41"/>
<rect x="991" y="620" width="1" height="42"/>
<rect x="999" y="614" width="1" height="48"/>
<rect x="1007" y="613" width="1" height="49"/>
<rect x="1015" y="612" width="1" height="50"/>
<rect x="1023" y="611" width="1" height="51"/>
<rect x="1031" y="613" width="1" height="49"/>
<rect x="1039" y="613" width="1" height="49"/>
<rect x="1047" y="609" width="1" height="53"/>
<rect x="1055" y="606" width="1" height="56"/>
<rect x="1063" y="605" width="1" height="57"/>
<rect x="1071" y="605" width="1" height="57"/>
<rect x="1079" y="606" width="1" height="56"/>
<rect x="1087" y="607" width="1" height="55"/>
<rect x="1095" y="610" width="1" height="52"/>
<rect x="1103" y="613" width="1" height="49"/>
<rect x="1111" y="616" width="1" height="46"/>
<rect x="1119" y="620" width="1" height="42"/>
<rect x="1127" y="622" width="1" height="40"/>
<rect x="1135" y="622" width="1" height="40"/>
<rect x="1143" y="622" width="1" height="40"/>
<rect x="1151" y="621" width="1" height="41"/>
<rect x="1159" y="621" width="1" height="41"/>
<rect x="1167" y="621" width="1" height="41"/>
<rect x="1175" y="622" width="1" height="40"/>
<rect x="1183" y="625" width="1" height="37"/>
<rect x="1191" y="630" width="1" height="32"/>
<rect x="1199" y="637" width="1" height="25"/>
<rect x="1207" y="643" width="1" height="19"/>
<rect x="1215" y="647" width="1" height="15"/>
<rect x="1223" y="650" width="1" height="12"/>
<rect x="1231" y="651" width="1" height="11"/>
<rect x="1239" y="651" width="1" height="11"/>
<rect x="1247" y="649" width="1" height="13"/>
<rect x="1255" y="648" width="1" height="14"/>
<rect x="1263" y="647" width="1" height="15"/>
<rect x="1271" y="646" width="1" height="16"/>
<rect x="1279" y="645" width="1" height="17"/>
<rect x="1287" y="646" width="1" height="16"/>
<rect x="1295" y="644" width="1" height="18"/>
<rect x="1303" y="644" width="1" height="18"/>
<rect x="1311" y="645" width="1" height="17"/>
<rect x="1319" y="645" width="1" height="17"/>
<rect x="1327" y="643" width="1" height="19"/>
<rect x="1335" y="645" width="1" height="17"/>
<rect x="1343" y="644" width="1" height="18"/>
<rect x="1351" y="643" width="1" height="19"/>
<rect x="1359" y="642" width="1" height="20"/>
<rect x="1367" y="642" width="1" height="20"/>
<rect x="1375" y="639" width="1" height="23"/>
<rect x="1383" y="638" width="1" height="24"/>
<rect x="1391" y="633" width="1" height="29"/>
<rect x="1399" y="630" width="1" height="32"/>
<rect x="1407" y="635" width="1" height="27"/>
</g>
<polyline points="3.8,671.2 16.8,672.8 29.9,675.1 39.7,677.7 52.7,681.0 65.8,684.9 78.8,687.9 88.6,690.8 104.9,693.9 114.7,695.2 131.0,700.9 147.3,703.8 163.6,706.6 179.9,707.9 196.3,707.4 209.3,705.5 222.4,707.1 232.1,710.7 240.3,714.8 246.3,718.5 256.1,723.7 262.6,726.7 269.1,729.0 278.9,730.6 287.1,731.6 293.6,730.6 301.8,725.4 311.5,717.2 321.3,707.4 331.1,698.5 340.9,689.8 350.7,680.5 360.5,672.4 370.3,665.0 380.1,660.9 389.8,656.9 399.6,653.9 409.4,652.9 424.1,652.9 435.5,653.9 445.3,656.5 458.4,657.7 464.9,658.8 474.7,659.0 482.3,657.2 492.1,655.2 501.9,652.8 511.7,650.7 521.4,649.0 534.5,649.0 541.0,650.3 550.8,652.8 560.6,654.4 570.4,657.7 580.2,662.2 590.0,665.3 599.7,669.9 609.5,673.5 619.3,678.1 629.1,682.1 638.9,686.5 648.7,690.8 658.5,693.9 668.3,695.7 678.0,698.0 689.5,698.0 700.9,694.7 711.5,690.8 724.8,685.9 734.6,681.0 747.7,676.1 760.7,671.2 773.8,668.3 785.2,666.6 796.6,663.9 809.6,662.6 822.7,661.1 835.7,659.8 848.8,659.0 861.8,660.6 874.9,662.9 884.7,664.2 894.5,667.0 907.5,667.5 920.6,666.3 930.4,663.4 940.1,660.1 946.0,657.0 952.7,652.8 959.2,649.5 967.3,643.0 977.1,637.0 983.7,634.0 993.4,629.1 1000.0,626.2 1008.1,622.6 1016.3,620.6 1026.1,618.0 1035.9,616.4 1045.6,613.6 1055.4,612.0 1065.2,610.9 1073.4,609.6 1084.8,607.9 1097.8,607.9 1107.6,607.9 1117.4,609.2 1130.5,611.5 1140.3,614.1 1150.0,616.4 1159.8,618.2 1169.6,620.2 1179.4,621.0 1190.3,622.3 1200.1,625.0 1209.9,627.5 1219.7,631.1 1229.4,634.8 1239.2,639.2 1249.0,643.0 1258.8,645.9 1271.9,647.9 1284.9,647.9 1298.0,647.1 1307.7,645.9 1320.8,645.4 1333.8,645.1 1346.9,644.3 1359.9,643.8 1373.0,643.0 1386.0,641.4 1395.8,639.7 1405.6,637.6 1408.1,637.3" fill="none" stroke="#ff0000" stroke-width="1" stroke-dasharray="3,2" shape-rendering="crispEdges"/>
<g shape-rendering="crispEdges">
<line x1="0" y1="789.5" x2="1650" y2="789.5" stroke="#c0c0c0" stroke-width="1" stroke-dasharray="3,3" stroke-dashoffset="2"/>
<line x1="0" y1="840.5" x2="1650" y2="840.5" stroke="#c0c0c0" stroke-width="1" stroke-dasharray="3,3" stroke-dashoffset="2"/>
<line x1="0" y1="901.5" x2="1650" y2="901.5" stroke="#c0c0c0" stroke-width="1" stroke-dasharray="3,3" stroke-dashoffset="2"/>
</g>
<polyline points="0.5,861.0 7.5,865.7 15.5,867.8 23.5,856.9 31.5,858.0 39.5,861.1 47.5,868.9 55.5,864.2 63.5,870.2 71.5,874.8 79.5,860.2 87.5,851.1 95.5,863.5 103.5,867.1 111.5,870.8 119.5,876.2 127.5,878.8 135.5,878.8 143.5,852.9 151.5,859.3 159.5,863.5 167.5,858.9 175.5,859.8 183.5,858.9 191.5,861.6 199.5,867.5 207.5,876.2 215.5,879.9 223.5,893.5 231.5,894.8 239.5,889.7 247.5,884.2 255.5,862.9 263.5,854.7 271.5,853.8 279.5,856.9 287.5,858.0 295.5,831.0 303.5,822.8 311.5,821.0 319.5,838.7 327.5,842.0 335.5,836.0 343.5,836.9 351.5,831.0 359.5,838.0 367.5,827.9 375.5,829.6 383.5,826.8 391.5,841.1 399.5,845.6 407.5,852.0 415.5,846.0 423.5,846.0 431.5,849.6 439.5,839.2 447.5,834.7 455.5,829.8 463.5,831.0 471.5,829.2 479.5,829.8 487.5,833.2 495.5,836.5 503.5,832.9 511.5,831.0 519.5,848.7 527.5,840.1 535.5,847.8 543.5,855.6 551.5,851.4 559.5,843.2 567.5,851.6 575.5,854.7 583.5,856.9 591.5,853.8 599.5,855.1 607.5,863.8 615.5,869.8 623.5,867.1 631.5,874.8 639.5,852.9 647.5,856.9 655.5,848.9 663.5,858.7 671.5,859.8 679.5,846.5 687.5,842.5 695.5,834.7 703.5,834.7 711.5,836.9 719.5,836.9 727.5,838.7 735.5,848.7 743.5,849.6 751.5,839.8 759.5,836.9 767.5,843.8 775.5,838.0 783.5,823.7 791.5,830.7 799.5,843.8 807.5,848.7 815.5,841.4 823.5,843.8 831.5,841.1 839.5,842.9 847.5,839.8 855.5,849.6 863.5,852.9 871.5,852.0 879.5,858.7 887.5,852.0 895.5,835.6 903.5,827.0 911.5,829.6 919.5,829.6 927.5,819.7 935.5,815.0 943.5,814.6 951.5,810.6 959.5,809.7 967.5,816.8 975.5,812.8 983.5,821.6 991.5,817.4 999.5,806.1 1007.5,814.6 1015.5,817.9 1023.5,814.6 1031.5,822.8 1039.5,818.3 1047.5,807.9 1055.5,807.9 1063.5,808.8 1071.5,813.7 1079.5,813.7 1087.5,812.8 1095.5,817.4 1103.5,820.5 1111.5,823.7 1119.5,823.7 1127.5,819.7 1135.5,815.5 1143.5,811.0 1151.5,808.8 1159.5,807.9 1167.5,807.9 1175.5,812.8 1183.5,825.0 1191.5,837.4 1199.5,850.7 1207.5,848.9 1215.5,845.6 1223.5,843.8 1231.5,841.1 1239.5,829.2 1247.5,823.7 1255.5,824.7 1263.5,822.8 1271.5,821.0 1279.5,817.9 1287.5,830.7 1295.5,818.6 1303.5,825.6 1311.5,828.8 1319.5,825.6 1327.5,817.9 1335.5,847.1 1343.5,824.7 1351.5,825.6 1359.5,824.7 1367.5,819.2 1375.5,816.5 1383.5,813.2 1391.5,809.5 1399.5,812.4 1407.5,812.7" fill="none" stroke="#1e90ff" stroke-width="1" shape-rendering="crispEdges"/>
<polygon points="1412,27 1421.5,27 1416.75,32.2" fill="#c0c0c0"/>
<g shape-rendering="crispEdges" fill="#000">
<rect x="0" y="26" width="1651" height="1"/>
<rect x="1650" y="26" width="1" height="902"/>
<rect x="0" y="593" width="1651" height="1"/>
<rect x="0" y="595" width="1651" height="1"/>
<rect x="0" y="751" width="1651" height="1"/>
<rect x="0" y="753" width="1651" height="1"/>
<rect x="0" y="927" width="1651" height="1"/>
</g>
<g shape-rendering="crispEdges" fill="#000">
<rect x="1651" y="29" width="3" height="1"/>
<rect x="1651" y="62" width="3" height="1"/>
<rect x="1651" y="95" width="3" height="1"/>
<rect x="1651" y="128" width="3" height="1"/>
<rect x="1651" y="161" width="3" height="1"/>
<rect x="1651" y="194" width="3" height="1"/>
<rect x="1651" y="227" width="3" height="1"/>
<rect x="1651" y="260" width="3" height="1"/>
<rect x="1651" y="293" width="3" height="1"/>
<rect x="1651" y="326" width="3" height="1"/>
<rect x="1651" y="359" width="3" height="1"/>
<rect x="1651" y="392" width="3" height="1"/>
<rect x="1651" y="425" width="3" height="1"/>
<rect x="1651" y="458" width="3" height="1"/>
<rect x="1651" y="491" width="3" height="1"/>
<rect x="1651" y="524" width="3" height="1"/>
<rect x="1651" y="557" width="3" height="1"/>
<rect x="1651" y="590" width="3" height="1"/>
<rect x="1651" y="597" width="2" height="1"/>
<rect x="1651" y="661" width="3" height="1"/>
<rect x="1651" y="750" width="2" height="1"/>
<rect x="1651" y="755" width="2" height="1"/>
<rect x="1651" y="789" width="3" height="1"/>
<rect x="1651" y="840" width="3" height="1"/>
<rect x="1651" y="901" width="3" height="1"/>
<rect x="1651" y="927" width="2" height="1"/>
<rect x="55" y="928" width="1" height="4"/>
<rect x="119" y="928" width="1" height="4"/>
<rect x="183" y="928" width="1" height="4"/>
<rect x="247" y="928" width="1" height="4"/>
<rect x="311" y="928" width="1" height="4"/>
<rect x="375" y="928" width="1" height="4"/>
<rect x="439" y="928" width="1" height="4"/>
<rect x="503" y="928" width="1" height="4"/>
<rect x="567" y="928" width="1" height="4"/>
<rect x="631" y="928" width="1" height="4"/>
<rect x="695" y="928" width="1" height="4"/>
<rect x="759" y="928" width="1" height="4"/>
<rect x="823" y="928" width="1" height="4"/>
<rect x="887" y="928" width="1" height="4"/>
<rect x="951" y="928" width="1" height="4"/>
<rect x="1015" y="928" width="1" height="4"/>
<rect x="1079" y="928" width="1" height="4"/>
<rect x="1143" y="928" width="1" height="4"/>
<rect x="1207" y="928" width="1" height="4"/>
<rect x="1271" y="928" width="1" height="4"/>
<rect x="1335" y="928" width="1" height="4"/>
<rect x="1399" y="928" width="1" height="4"/>
</g>
<g font-family="'Liberation Sans', Arial, sans-serif" font-size="10px" fill="#000" stroke="#000" stroke-width="0.15">
<text x="1655.5" y="33" transform="matrix(0.913 0 0 1 144.028 0)" >35597.5</text>
<text x="1655.5" y="66" transform="matrix(0.913 0 0 1 144.028 0)" >35382.5</text>
<text x="1655.5" y="99" transform="matrix(0.913 0 0 1 144.028 0)" >35161.0</text>
<text x="1655.5" y="132" transform="matrix(0.913 0 0 1 144.028 0)" >34947.5</text>
<text x="1655.5" y="165" transform="matrix(0.913 0 0 1 144.028 0)" >34733.0</text>
<text x="1655.5" y="198" transform="matrix(0.913 0 0 1 144.028 0)" >34518.5</text>
<text x="1655.5" y="231" transform="matrix(0.913 0 0 1 144.028 0)" >34304.0</text>
<text x="1655.5" y="264" transform="matrix(0.913 0 0 1 144.028 0)" >34089.5</text>
<text x="1655.5" y="297" transform="matrix(0.913 0 0 1 144.028 0)" >33868.5</text>
<text x="1655.5" y="330" transform="matrix(0.913 0 0 1 144.028 0)" >33654.0</text>
<text x="1655.5" y="363" transform="matrix(0.913 0 0 1 144.028 0)" >33439.5</text>
<text x="1655.5" y="396" transform="matrix(0.913 0 0 1 144.028 0)" >33225.0</text>
<text x="1655.5" y="429" transform="matrix(0.913 0 0 1 144.028 0)" >33010.5</text>
<text x="1655.5" y="462" transform="matrix(0.913 0 0 1 144.028 0)" >32789.5</text>
<text x="1655.5" y="495" transform="matrix(0.913 0 0 1 144.028 0)" >32575.0</text>
<text x="1655.5" y="528" transform="matrix(0.913 0 0 1 144.028 0)" >32360.5</text>
<text x="1655.5" y="561" transform="matrix(0.913 0 0 1 144.028 0)" >32146.0</text>
<text x="1655.5" y="594" transform="matrix(0.913 0 0 1 144.028 0)" >31931.5</text>
<text x="1654" y="605.6" transform="matrix(0.913 0 0 1 143.898 0)" >358.23</text>
<text x="1654" y="665" transform="matrix(0.913 0 0 1 143.898 0)" >0.00</text>
<text x="1654" y="748" transform="matrix(0.913 0 0 1 143.898 0)" >-503.72</text>
<text x="1654" y="764" transform="matrix(0.913 0 0 1 143.898 0)" >100</text>
<text x="1654" y="793" transform="matrix(0.913 0 0 1 143.898 0)" >80</text>
<text x="1654" y="844" transform="matrix(0.913 0 0 1 143.898 0)" >50</text>
<text x="1654" y="905" transform="matrix(0.913 0 0 1 143.898 0)" >15</text>
<text x="1654" y="924" transform="matrix(0.913 0 0 1 143.898 0)" >0</text>
</g>
<rect x="1652" y="32" width="41" height="11" fill="#ff0000" shape-rendering="crispEdges"/>
<text x="1655.5" y="41.3" transform="matrix(0.913 0 0 1 144.028 0)" font-family="'Liberation Sans', Arial, sans-serif" font-size="10px" fill="#fff" stroke="#fff" stroke-width="0.1">35539.0</text>
<rect x="1652" y="58" width="41" height="11" fill="#ff0000" shape-rendering="crispEdges"/>
<text x="1655.5" y="67.3" transform="matrix(0.913 0 0 1 144.028 0)" font-family="'Liberation Sans', Arial, sans-serif" font-size="10px" fill="#fff" stroke="#fff" stroke-width="0.1">35372.0</text>
<rect x="1652" y="90" width="41" height="10" fill="#000000" shape-rendering="crispEdges"/>
<text x="1655.5" y="99.3" transform="matrix(0.913 0 0 1 144.028 0)" font-family="'Liberation Sans', Arial, sans-serif" font-size="10px" fill="#fff" stroke="#fff" stroke-width="0.1">35165.5</text>
<rect x="1652" y="100" width="41" height="11" fill="#32cd32" shape-rendering="crispEdges"/>
<text x="1655.5" y="109.3" transform="matrix(0.913 0 0 1 144.028 0)" font-family="'Liberation Sans', Arial, sans-serif" font-size="10px" fill="#fff" stroke="#fff" stroke-width="0.1">35094.4</text>
<rect x="1652" y="127" width="41" height="11" fill="#0000ff" shape-rendering="crispEdges"/>
<text x="1655.5" y="136.3" transform="matrix(0.913 0 0 1 144.028 0)" font-family="'Liberation Sans', Arial, sans-serif" font-size="10px" fill="#fff" stroke="#fff" stroke-width="0.1">34917.3</text>
<rect x="1652" y="156" width="41" height="11" fill="#0000ff" shape-rendering="crispEdges"/>
<text x="1655.5" y="165.3" transform="matrix(0.913 0 0 1 144.028 0)" font-family="'Liberation Sans', Arial, sans-serif" font-size="10px" fill="#fff" stroke="#fff" stroke-width="0.1">34728.4</text>
<rect x="1645.5" y="36.5" width="4" height="4" fill="#fff" stroke="#ff0000" stroke-width="1" shape-rendering="crispEdges"/>
<rect x="1645.5" y="62.5" width="4" height="4" fill="#fff" stroke="#ff0000" stroke-width="1" shape-rendering="crispEdges"/>
<rect x="1645.5" y="104.5" width="4" height="4" fill="#fff" stroke="#32cd32" stroke-width="1" shape-rendering="crispEdges"/>
<rect x="1645.5" y="131.5" width="4" height="4" fill="#fff" stroke="#0000ff" stroke-width="1" shape-rendering="crispEdges"/>
<rect x="1645.5" y="160.5" width="4" height="4" fill="#fff" stroke="#0000ff" stroke-width="1" shape-rendering="crispEdges"/>
<g font-family="'Liberation Sans', Arial, sans-serif" font-size="10px" fill="#000" stroke="#000" stroke-width="0.15">
<text x="-9.5" y="939.8" transform="matrix(0.913 0 0 1 -0.826 0)" >17 Feb 2022</text>
<text x="54.5" y="939.8" transform="matrix(0.913 0 0 1 4.741 0)" >18 Feb 16:00</text>
<text x="118.5" y="939.8" transform="matrix(0.913 0 0 1 10.309 0)" >21 Feb 23:00</text>
<text x="182.5" y="939.8" transform="matrix(0.913 0 0 1 15.877 0)" >23 Feb 04:00</text>
<text x="246.5" y="939.8" transform="matrix(0.913 0 0 1 21.445 0)" >24 Feb 12:00</text>
<text x="310.5" y="939.8" transform="matrix(0.913 0 0 1 27.013 0)" >25 Feb 20:00</text>
<text x="374.5" y="939.8" transform="matrix(0.913 0 0 1 32.581 0)" >1 Mar 00:00</text>
<text x="438.5" y="939.8" transform="matrix(0.913 0 0 1 38.149 0)" >2 Mar 08:00</text>
<text x="502.5" y="939.8" transform="matrix(0.913 0 0 1 43.717 0)" >3 Mar 16:00</text>
<text x="566.5" y="939.8" transform="matrix(0.913 0 0 1 49.285 0)" >6 Mar 23:00</text>
<text x="630.5" y="939.8" transform="matrix(0.913 0 0 1 54.853 0)" >8 Mar 04:00</text>
<text x="694.5" y="939.8" transform="matrix(0.913 0 0 1 60.421 0)" >9 Mar 12:00</text>
<text x="758.5" y="939.8" transform="matrix(0.913 0 0 1 65.989 0)" >10 Mar 20:00</text>
<text x="822.5" y="939.8" transform="matrix(0.913 0 0 1 71.557 0)" >14 Mar 00:00</text>
<text x="886.5" y="939.8" transform="matrix(0.913 0 0 1 77.125 0)" >15 Mar 08:00</text>
<text x="950.5" y="939.8" transform="matrix(0.913 0 0 1 82.693 0)" >16 Mar 16:00</text>
<text x="1014.5" y="939.8" transform="matrix(0.913 0 0 1 88.261 0)" >18 Mar 00:00</text>
<text x="1078.5" y="939.8" transform="matrix(0.913 0 0 1 93.829 0)" >21 Mar 04:00</text>
<text x="1142.5" y="939.8" transform="matrix(0.913 0 0 1 99.397 0)" >22 Mar 12:00</text>
<text x="1206.5" y="939.8" transform="matrix(0.913 0 0 1 104.965 0)" >23 Mar 20:00</text>
<text x="1270.5" y="939.8" transform="matrix(0.913 0 0 1 110.533 0)" >25 Mar 04:00</text>
<text x="1334.5" y="939.8" transform="matrix(0.913 0 0 1 116.101 0)" >28 Mar 12:00</text>
<text x="1398.5" y="939.8" transform="matrix(0.913 0 0 1 121.669 0)" >29 Mar 20:00</text>
</g>
<text x="-7" y="608" textLength="130" lengthAdjust="spacingAndGlyphs" font-family="'Liberation Sans', Arial, sans-serif" font-size="10px" fill="#000" stroke="#000" stroke-width="0.15">MACD(12,26,9) 178.79 134.53</text>
<text x="-6.8" y="766" textLength="70" lengthAdjust="spacingAndGlyphs" font-family="'Liberation Sans', Arial, sans-serif" font-size="10px" fill="#000" stroke="#000" stroke-width="0.15">RSI(14) 66.6013</text>
<rect x="424.5" y="242.5" width="61" height="18" fill="#fff" stroke="#ff0000" stroke-width="1" shape-rendering="crispEdges"/>
<text x="425.8" y="258" textLength="59" lengthAdjust="spacingAndGlyphs" font-family="'Liberation Sans', Arial, sans-serif" font-size="16.8px" fill="#ff0000">34144.3</text>
<g shape-rendering="crispEdges" fill="#ff0000"><rect x="486" y="251" width="10" height="1"/></g>
<rect x="816.5" y="481.5" width="60" height="18" fill="#fff" stroke="#ff0000" stroke-width="1" shape-rendering="crispEdges"/>
<text x="817.8" y="497" textLength="59" lengthAdjust="spacingAndGlyphs" font-family="'Liberation Sans', Arial, sans-serif" font-size="16.8px" fill="#ff0000">32580.2</text>
<g shape-rendering="crispEdges" fill="#ff0000"><rect x="877" y="490" width="11" height="1"/></g>
<rect x="1312.5" y="70.5" width="61" height="18" fill="#fff" stroke="#ff0000" stroke-width="1" shape-rendering="crispEdges"/>
<text x="1313.6" y="86" textLength="59.5" lengthAdjust="spacingAndGlyphs" font-family="'Liberation Sans', Arial, sans-serif" font-size="16.8px" fill="#ff0000">35271.6</text>
<rect x="1374.5" y="77.5" width="2" height="2" fill="#fff" stroke="#ff0000" shape-rendering="crispEdges"/>
<g shape-rendering="crispEdges" fill="#ff0000"><rect x="1377" y="78" width="7" height="1"/></g>
<rect x="1210.5" y="94.5" width="73" height="24" fill="#fff" stroke="#ff0000" stroke-width="1" shape-rendering="crispEdges"/>
<text x="1210.8" y="115" textLength="72.3" lengthAdjust="spacingAndGlyphs" font-family="'Liberation Sans', Arial, sans-serif" font-size="22px" fill="#ff0000">35094.4</text>
<rect x="1207.5" y="104.5" width="2" height="3" fill="#fff" stroke="#ff0000" shape-rendering="crispEdges"/>
<g shape-rendering="crispEdges" fill="#ff0000"><rect x="1200" y="106" width="7" height="1"/></g>
<line x1="1219" y1="227" x2="1433.2867357600367" y2="71.54645285265204" stroke="#ff0000" stroke-width="3.6" stroke-linecap="round" shape-rendering="crispEdges"/>
<polygon points="1443,64.5 1436.000523499699,76.99028937702141 1434.0961744467002,70.95924844826436 1428.9540706470468,67.27702513705799" fill="#ff0000" shape-rendering="crispEdges"/>
<line x1="1335" y1="645.5" x2="1408.1712966694067" y2="632.4336970233202" stroke="#ff0000" stroke-width="3.6" stroke-linecap="round" shape-rendering="crispEdges"/>
<polygon points="1419,630.5 1408.1537176055583,638.0238393271005 1409.155724244915,632.2579063848366 1406.220020582238,627.1951359965072" fill="#ff0000" shape-rendering="crispEdges"/>
<line x1="1318.5" y1="835.6" x2="1408.9698466665343" y2="811.5283988592506" stroke="#ff0000" stroke-width="3.6" stroke-linecap="round" shape-rendering="crispEdges"/>
<polygon points="1419.6,808.7 1409.41766852039,817.1006026950062 1409.9362242423038,811.2712716902278 1406.5892696611393,806.4704493615405" fill="#ff0000" shape-rendering="crispEdges"/>
<defs>
<linearGradient id="gtop" x1="0" y1="0" x2="0" y2="1"><stop offset="0" stop-color="#f25454"/><stop offset="1" stop-color="#db2c2c"/></linearGradient>
<linearGradient id="gbot" x1="0" y1="0" x2="0" y2="1"><stop offset="0" stop-color="#d62a2a"/><stop offset="1" stop-color="#b30000"/></linearGradient>
<linearGradient id="gbtn" x1="0" y1="0" x2="0" y2="1"><stop offset="0" stop-color="#f4f4f4"/><stop offset="0.5" stop-color="#e8e8e8"/><stop offset="0.51" stop-color="#dcdcdc"/><stop offset="1" stop-color="#d4d4d4"/></linearGradient>
</defs>
<g shape-rendering="crispEdges">
<rect x="0" y="44" width="215" height="61" fill="#fff"/>
<rect x="0" y="46" width="46" height="25" fill="url(#gtop)"/>
<rect x="0" y="46" width="46" height="1" fill="#a81010"/>
<rect x="45" y="46" width="1" height="25" fill="#a81010"/>
<rect x="161" y="46" width="52" height="25" fill="url(#gtop)"/>
<rect x="161" y="46" width="52" height="1" fill="#a81010"/>
<rect x="161" y="46" width="1" height="25" fill="#a81010"/>
<rect x="212" y="46" width="1" height="57" fill="#a81010"/>
<rect x="0" y="70" width="103" height="33" fill="url(#gbot)"/>
<rect x="105" y="70" width="108" height="33" fill="url(#gbot)"/>
<rect x="0" y="69" width="42" height="1" fill="#8a0000"/>
<rect x="0" y="70" width="42" height="1" fill="#e86060"/>
<rect x="165" y="69" width="44" height="1" fill="#8a0000"/>
<rect x="165" y="70" width="44" height="1" fill="#e86060"/>
<rect x="0" y="102" width="213" height="1" fill="#a00000"/>
<rect x="48" y="46" width="111" height="22" fill="#a8a8a8"/>
<rect x="49" y="47" width="109" height="20" fill="#fff"/>
<rect x="49" y="47" width="20" height="20" fill="url(#gbtn)"/>
<rect x="138" y="47" width="20" height="20" fill="url(#gbtn)"/>
<rect x="69" y="47" width="1" height="20" fill="#b8b8b8"/>
<rect x="137" y="47" width="1" height="20" fill="#b8b8b8"/>
</g>
<path d="M56.5,55.5 h5 l-2.5,2.5 z" fill="#4060c0"/>
<path d="M145.5,58 h5 l-2.5,-2.5 z" fill="#4060c0"/>
<text x="110" y="60.7" font-family="'Liberation Sans', Arial, sans-serif" font-size="11.7px" fill="#000">1.00</text>
<text x="5.6" y="61.8" textLength="26.6" lengthAdjust="spacingAndGlyphs" font-family="'Liberation Sans', Arial, sans-serif" font-size="12.4px" fill="#fff">SELL</text>
<text x="173.6" y="61.8" textLength="24.4" lengthAdjust="spacingAndGlyphs" font-family="'Liberation Sans', Arial, sans-serif" font-size="12.4px" fill="#fff">BUY</text>
<text x="9.8" y="97.7" textLength="35.3" lengthAdjust="spacingAndGlyphs" font-family="'Liberation Sans', Arial, sans-serif" font-size="11.7px" font-weight="bold" fill="#fff">35164</text>
<text x="47.7" y="97.8" font-family="'Liberation Sans', Arial, sans-serif" font-size="24px" font-weight="bold" fill="#fff">.</text>
<text x="54.3" y="97.7" textLength="18.6" lengthAdjust="spacingAndGlyphs" font-family="'Liberation Sans', Arial, sans-serif" font-size="33px" fill="#fff">0</text>
<text x="120" y="97.7" textLength="35.3" lengthAdjust="spacingAndGlyphs" font-family="'Liberation Sans', Arial, sans-serif" font-size="11.7px" font-weight="bold" fill="#fff">35174</text>
<text x="158.5" y="97.8" font-family="'Liberation Sans', Arial, sans-serif" font-size="24px" font-weight="bold" fill="#fff">.</text>
<text x="165.2" y="97.7" textLength="18.6" lengthAdjust="spacingAndGlyphs" font-family="'Liberation Sans', Arial, sans-serif" font-size="33px" fill="#fff">0</text>
<rect x="0" y="0" width="1697" height="22" fill="#f0f0f0"/>
<rect x="0" y="21" width="1697" height="1" fill="#f7f7f7"/>
<rect x="0" y="22" width="1697" height="1" fill="#a0a0a0"/>
<rect x="0" y="23" width="1697" height="1" fill="#696969"/>
<rect x="1696" y="24" width="1" height="920" fill="#e3e3e3"/>
<rect x="11" y="0" width="1" height="20" fill="#a0a0a0"/><rect x="12" y="0" width="1" height="20" fill="#fff"/>
<rect x="247" y="0" width="1" height="20" fill="#a0a0a0"/><rect x="248" y="0" width="1" height="20" fill="#fff"/>
<rect x="285" y="0" width="1" height="20" fill="#a0a0a0"/><rect x="286" y="0" width="1" height="20" fill="#fff"/>
<rect x="342" y="0" width="1" height="20" fill="#a0a0a0"/><rect x="343" y="0" width="1" height="20" fill="#fff"/>
<rect x="432" y="0" width="1" height="20" fill="#a0a0a0"/><rect x="433" y="0" width="1" height="20" fill="#fff"/>
<rect x="437" y="0" width="1" height="20" fill="#a0a0a0"/><rect x="438" y="0" width="1" height="20" fill="#fff"/>
<rect x="465" y="0" width="1" height="20" fill="#a0a0a0"/><rect x="466" y="0" width="1" height="20" fill="#fff"/>
<rect x="494" y="0" width="1" height="20" fill="#a0a0a0"/><rect x="495" y="0" width="1" height="20" fill="#fff"/>
<rect x="615" y="0" width="1" height="20" fill="#a0a0a0"/><rect x="616" y="0" width="1" height="20" fill="#fff"/>
<rect x="625" y="0" width="1" height="20" fill="#a0a0a0"/><rect x="626" y="0" width="1" height="20" fill="#fff"/>
<rect x="682" y="0" width="1" height="20" fill="#a0a0a0"/><rect x="683" y="0" width="1" height="20" fill="#fff"/>
<rect x="921" y="0" width="1" height="20" fill="#a0a0a0"/><rect x="922" y="0" width="1" height="20" fill="#fff"/>
<rect x="1071" y="0" width="1" height="20" fill="#a0a0a0"/><rect x="1072" y="0" width="1" height="20" fill="#fff"/>
<rect x="1182" y="0" width="1" height="20" fill="#a0a0a0"/><rect x="1183" y="0" width="1" height="20" fill="#fff"/>
<rect x="251" y="2" width="3" height="1" fill="#a0a0a0"/>
<rect x="251" y="4" width="3" height="1" fill="#a0a0a0"/>
<rect x="251" y="6" width="3" height="1" fill="#a0a0a0"/>
<rect x="251" y="8" width="3" height="1" fill="#a0a0a0"/>
<rect x="251" y="10" width="3" height="1" fill="#a0a0a0"/>
<rect x="251" y="12" width="3" height="1" fill="#a0a0a0"/>
<rect x="251" y="14" width="3" height="1" fill="#a0a0a0"/>
<rect x="251" y="16" width="3" height="1" fill="#a0a0a0"/>
<rect x="251" y="18" width="3" height="1" fill="#a0a0a0"/>
<rect x="619" y="2" width="3" height="1" fill="#a0a0a0"/>
<rect x="619" y="4" width="3" height="1" fill="#a0a0a0"/>
<rect x="619" y="6" width="3" height="1" fill="#a0a0a0"/>
<rect x="619" y="8" width="3" height="1" fill="#a0a0a0"/>
<rect x="619" y="10" width="3" height="1" fill="#a0a0a0"/>
<rect x="619" y="12" width="3" height="1" fill="#a0a0a0"/>
<rect x="619" y="14" width="3" height="1" fill="#a0a0a0"/>
<rect x="619" y="16" width="3" height="1" fill="#a0a0a0"/>
<rect x="619" y="18" width="3" height="1" fill="#a0a0a0"/>
<rect x="925" y="2" width="3" height="1" fill="#a0a0a0"/>
<rect x="925" y="4" width="3" height="1" fill="#a0a0a0"/>
<rect x="925" y="6" width="3" height="1" fill="#a0a0a0"/>
<rect x="925" y="8" width="3" height="1" fill="#a0a0a0"/>
<rect x="925" y="10" width="3" height="1" fill="#a0a0a0"/>
<rect x="925" y="12" width="3" height="1" fill="#a0a0a0"/>
<rect x="925" y="14" width="3" height="1" fill="#a0a0a0"/>
<rect x="925" y="16" width="3" height="1" fill="#a0a0a0"/>
<rect x="925" y="18" width="3" height="1" fill="#a0a0a0"/>
<rect x="286" y="0" width="24" height="21" fill="#f8f8f8"/>
<rect x="438" y="0" width="24" height="21" fill="#f8f8f8"/>
<rect x="466" y="0" width="24" height="21" fill="#f8f8f8"/>
<rect x="626" y="0" width="24" height="21" fill="#f8f8f8"/>
<rect x="1072" y="0" width="25" height="21" fill="#f8f8f8"/>
<path d="M-0.5,14 L3,19" stroke="#c89a20" stroke-width="2.2"/>
<g fill="#000"><rect x="9" y="8.6" width="1" height="1"/><rect x="8" y="9.6" width="1" height="1"/><rect x="10" y="9.6" width="1" height="1"/><rect x="9" y="10.6" width="1" height="1"/></g>
<path d="M21.8,2.6 H29.2 L32.6,6 V15.6 H21.8 Z" fill="#fff" stroke="#6a6a6a" stroke-width="1.1" stroke-linejoin="round"/>
<path d="M29.2,2.6 V6 H32.6" fill="#e0e0e0" stroke="#6a6a6a" stroke-width="1"/>
<path d="M23.2,5 h2.7 M23.2,8.4 h5.8 M23.2,10.4 h4.7 M23.2,12.5 h1.8" stroke="#6a6a6a" stroke-width="1"/>
<defs><linearGradient id="gplus" x1="0" y1="0" x2="1" y2="1"><stop offset="0" stop-color="#80ff80"/><stop offset="0.5" stop-color="#10f030"/><stop offset="1" stop-color="#00b010"/></linearGradient></defs>
<path d="M29.5,8.5 h3.5 v3.9 h3.5 v3.2 h-3.5 v3.9 h-3.5 v-3.9 h-4 v-3.2 h4 z" fill="url(#gplus)" stroke="#007a00" stroke-width="1"/>
<text x="40" y="13.5" font-family="'Liberation Sans', 'Noto Sans CJK SC', 'WenQuanYi Zen Hei', sans-serif" font-size="12px" font-weight="500" fill="#000">新订单</text>
<defs><linearGradient id="ggold" x1="0" y1="0" x2="1" y2="1"><stop offset="0" stop-color="#f8d840"/><stop offset="0.6" stop-color="#e8b010"/><stop offset="1" stop-color="#c08010"/></linearGradient></defs>
<path d="M93.8,3.3 L102.8,9.8 L104,12.4 L96.2,17.8 L88.2,11.6 L92.5,7 Z" fill="url(#ggold)" stroke="#a86a10" stroke-width="0.9" stroke-linejoin="round"/>
<path d="M88.8,11.8 L96.2,16.6 L103.6,11.6" fill="none" stroke="#f8eaa8" stroke-width="1"/>
<path d="M118,3.5 L120,2 H129 V10 H118 Z" fill="#1590f0" stroke="#0a70d8" stroke-width="0.6"/><path d="M118.4,3.2 L121.4,5.2 V10.5" stroke="#d8f0ff" stroke-width="0.8" fill="none"/><rect x="123" y="6.6" width="5" height="1.3" fill="#fff"/>
<path d="M117.5,17.6 C115.2,17.6 115.3,13.6 118.2,13.6 C118.6,11.2 122,10.6 123.6,12.2 C125.2,10.2 129.2,10.6 129.2,13.4 C132.2,13.4 132.2,17.6 129.8,17.6 Z" fill="#e4e9f2" stroke="#4a64a0" stroke-width="0.9"/>
<defs><linearGradient id="gsig" x1="0" y1="0" x2="1" y2="1"><stop offset="0" stop-color="#e8f4e8"/><stop offset="1" stop-color="#30a030"/></linearGradient></defs>
<path d="M152.5,10 L152.5,17.8 A7.8,7.8 0 0 0 160.3,10 Z" fill="url(#gsig)" opacity="0.7"/>
<circle cx="152.5" cy="10" r="7.4" fill="none" stroke="#7aa0d8" stroke-width="1" opacity="0.8"/><circle cx="152.5" cy="10" r="4.6" fill="none" stroke="#8ab0e0" stroke-width="1" opacity="0.8"/><circle cx="152.3" cy="9.8" r="1.9" fill="#2a58c8"/>
<path d="M152.7,10.5 V17.6" stroke="#20a020" stroke-width="1.3"/>
<path d="M171.6,9.6 L187,9 L178.2,17.8 Z" fill="#f6dc40" stroke="#c89a10" stroke-width="0.8" stroke-linejoin="round"/>
<ellipse cx="179" cy="7.3" rx="7.6" ry="2.6" fill="#58b0e8" stroke="#2a78a8" stroke-width="0.8"/><path d="M174.5,6.8 Q175,2.2 179,2.2 Q183,2.2 183.5,6.8" fill="#6cc0f0" stroke="#2a78a8" stroke-width="0.8"/>
<circle cx="183.6" cy="13.8" r="4" fill="#d82010" stroke="#a01008" stroke-width="0.6"/><rect x="182.1" y="12.3" width="3" height="3" fill="#fff"/>
<text x="192.4" y="13.5" font-family="'Liberation Sans', 'Noto Sans CJK SC', 'WenQuanYi Zen Hei', sans-serif" font-size="12px" font-weight="500" fill="#000">自动交易</text>
<path d="M265.5,5.5 V18" stroke="#505050" stroke-width="1.1"/><path d="M263.7,6.6 L265.5,4 L267.3,6.6 Z" fill="#505050"/><path d="M263,15.5 H275.5" stroke="#505050" stroke-width="1.1"/><path d="M274.6,13.6 L277.2,15.5 L274.6,17.4 Z" fill="#505050"/>
<path d="M271.6,5 V13.8 M269,12.4 H271.6 M271.6,6.3 H274.2" stroke="#008a00" stroke-width="1.3" fill="none"/>
<path d="M293.5,5.5 V18" stroke="#505050" stroke-width="1.1"/><path d="M291.7,6.6 L293.5,4 L295.3,6.6 Z" fill="#505050"/><path d="M291,15.5 H303.5" stroke="#505050" stroke-width="1.1"/><path d="M302.6,13.6 L305.2,15.5 L302.6,17.4 Z" fill="#505050"/>
<defs><linearGradient id="gcdl" x1="0" y1="0" x2="1" y2="0"><stop offset="0" stop-color="#30e030"/><stop offset="0.5" stop-color="#a0ffa0"/><stop offset="1" stop-color="#20d020"/></linearGradient></defs>
<path d="M299.6,2 V14" stroke="#008000" stroke-width="1.2"/><rect x="297.4" y="4.4" width="4.4" height="7.4" fill="url(#gcdl)" stroke="#008000" stroke-width="1"/>
<path d="M321.5,5.5 V18" stroke="#505050" stroke-width="1.1"/><path d="M319.7,6.6 L321.5,4 L323.3,6.6 Z" fill="#505050"/><path d="M319,15.5 H331.5" stroke="#505050" stroke-width="1.1"/><path d="M330.6,13.6 L333.2,15.5 L330.6,17.4 Z" fill="#505050"/>
<path d="M320.6,12.6 C322.5,10 324.5,7 326.3,7.2 C328,7.4 329.5,10.5 331.8,11" stroke="#2a9a2a" stroke-width="1.1" fill="none"/>
<path d="M361.2,12.2 L365.6,16.6" stroke="#a87008" stroke-width="3.4" stroke-linecap="square"/><path d="M361.2,12.2 L365.6,16.6" stroke="#f0d850" stroke-width="1.8"/><circle cx="357" cy="8" r="5.5" fill="#dcf2fc" stroke="#3a78c8" stroke-width="1.1"/><path d="M354,8 h6" stroke="#3a80b0" stroke-width="1.6"/><path d="M357,5 v6" stroke="#3a80b0" stroke-width="1.6"/>
<path d="M389.2,12.2 L393.6,16.6" stroke="#a87008" stroke-width="3.4" stroke-linecap="square"/><path d="M389.2,12.2 L393.6,16.6" stroke="#f0d850" stroke-width="1.8"/><circle cx="385" cy="8" r="5.5" fill="#dcf2fc" stroke="#3a78c8" stroke-width="1.1"/><path d="M382,8 h6" stroke="#3a80b0" stroke-width="1.6"/>
<rect x="407" y="2" width="8" height="8" fill="#3c9e1c"/><rect x="415" y="2" width="8" height="8" fill="#1c4ed0"/><rect x="407" y="10" width="8" height="8" fill="#1c4ed0"/><rect x="415" y="10" width="8" height="8" fill="#3c9e1c"/>
<path d="M408.5,9 V6 H413.5 V9" fill="none" stroke="#fff" stroke-width="1.1"/><rect x="408" y="3" width="1" height="1" fill="#fff" opacity="0.8"/>
<path d="M416.5,9 V6 H421.5 V9" fill="none" stroke="#fff" stroke-width="1.1"/><rect x="416" y="3" width="1" height="1" fill="#fff" opacity="0.8"/>
<path d="M408.5,17 V14 H413.5 V17" fill="none" stroke="#fff" stroke-width="1.1"/><rect x="408" y="11" width="1" height="1" fill="#fff" opacity="0.8"/>
<path d="M416.5,17 V14 H421.5 V17" fill="none" stroke="#fff" stroke-width="1.1"/><rect x="416" y="11" width="1" height="1" fill="#fff" opacity="0.8"/>
<path d="M445.5,5.5 V18" stroke="#505050" stroke-width="1.1"/><path d="M443.7,6.6 L445.5,4 L447.3,6.6 Z" fill="#505050"/><path d="M443,15.5 H455.5" stroke="#505050" stroke-width="1.1"/><path d="M454.6,13.6 L457.2,15.5 L454.6,17.4 Z" fill="#505050"/>
<path d="M450.3,6.4 L454.2,9.5 L450.3,12.8 Z" fill="#70f070" stroke="#10a010" stroke-width="1"/>
<path d="M473.5,5.5 V18" stroke="#505050" stroke-width="1.1"/><path d="M471.7,6.6 L473.5,4 L475.3,6.6 Z" fill="#505050"/><path d="M471,15.5 H483.5" stroke="#505050" stroke-width="1.1"/><path d="M482.6,13.6 L485.2,15.5 L482.6,17.4 Z" fill="#505050"/>
<path d="M479.5,4.3 V13.6" stroke="#1a68a0" stroke-width="1.1"/><path d="M485,9.5 H481 M483,7.5 L481,9.5 L483,11.5" stroke="#e05010" stroke-width="1.2" fill="none"/>
<path d="M504.6,2.6 H511.6 L515.2,6.2 V15.4 H504.6 Z" fill="#fff" stroke="#6a6a6a" stroke-width="1.1" stroke-linejoin="round"/>
<path d="M511.6,2.6 V6.2 H515.2" fill="#e0e0e0" stroke="#6a6a6a" stroke-width="1"/>
<path d="M509.3,5 Q507.5,5 507.4,7.5 V13" stroke="#504830" stroke-width="0.9" fill="none"/>
<path d="M512.3,8.6 h3.4 v3.8 h3.6 v3.2 h-3.6 v3.8 h-3.4 v-3.8 h-3.8 v-3.2 h3.8 z" fill="url(#gplus)" stroke="#007a00" stroke-width="1"/>
<path d="M526,9 h5.2 l-2.6,3.2 z" fill="#000"/>
<path d="M565,9 h5.2 l-2.6,3.2 z" fill="#000"/>
<path d="M604,9 h5.2 l-2.6,3.2 z" fill="#000"/>
<path d="M910,9 h5.2 l-2.6,3.2 z" fill="#000"/>
<defs><radialGradient id="gclk" cx="0.4" cy="0.35" r="0.7"><stop offset="0" stop-color="#60b8ff"/><stop offset="1" stop-color="#0050b8"/></radialGradient></defs>
<circle cx="550" cy="9.9" r="8" fill="url(#gclk)"/><circle cx="550" cy="9.9" r="5.6" fill="#f4f6f8"/>
<path d="M549.6,6.3 V9.9 H552.8" stroke="#202020" stroke-width="1.1" fill="none"/><path d="M548.8,13.2 h2" stroke="#4090e0" stroke-width="0.8"/>
<rect x="581.5" y="3.5" width="15" height="13" fill="#fff" stroke="#4a78c0"/><rect x="582" y="4" width="14" height="2" fill="#6a98d8"/><path d="M583,10 l3,-1.5 l3,1 l3,-2 l3,0.5" stroke="#c03020" fill="none"/><path d="M583,14.5 l3,-1.5 l3,1 l3,-2 l3,0.5" stroke="#30a030" fill="none"/><path d="M582,12 h14" stroke="#4a78c0"/>
<path d="M633,3 L633,14 L635.5,11.5 L638,16.5 L640,15.5 L637.5,10.5 L641,10.5 Z" fill="#404040"/>
<path d="M658,10.5 H664.6 M666.4,10.5 H673 M665.5,3 V9.6 M665.5,11.4 V18" stroke="#505050" stroke-width="1"/>
<path d="M699.5,4 V17" stroke="#505050" stroke-width="1.2"/>
<path d="M722,10.5 H734" stroke="#505050" stroke-width="1.2"/>
<path d="M750,17 L762,5" stroke="#505050" stroke-width="1.2"/>
<path d="M775.6,11.8 L785,4.3 M777.6,16.4 L790.2,7.2 M777,10.2 L778.8,15.8 M780.4,8 L782.2,13.6 M783.8,5.6 L785.6,11.2 M788,2 V9.6" stroke="#505050" stroke-width="1" fill="none"/>
<text x="787" y="19" font-family="'Liberation Sans', Arial, sans-serif" font-size="7px" font-weight="bold" fill="#505050">E</text>
<path d="M805,3.5 H818" stroke="#505050" stroke-dasharray="1,1"/>
<path d="M805,6.5 H818" stroke="#505050" stroke-dasharray="1,1"/>
<path d="M805,10.5 H818" stroke="#505050" stroke-dasharray="1,1"/>
<path d="M805,14.5 H818" stroke="#505050" stroke-dasharray="1,1"/>
<text x="814" y="19.5" font-family="'Liberation Sans', Arial, sans-serif" font-size="7px" font-weight="bold" fill="#505050">F</text>
<text x="835.5" y="15" font-family="'Liberation Sans', Arial, sans-serif" font-size="12px" font-weight="bold" fill="#505050">A</text>
<rect x="861.5" y="3.5" width="12" height="13" fill="none" stroke="#505050" stroke-dasharray="1,1" shape-rendering="crispEdges"/>
<text x="863.5" y="14.5" font-family="'Liberation Sans', Arial, sans-serif" font-size="11px" font-weight="bold" fill="#505050">T</text>
<path d="M892,4 l3,3 l-3,3 l-3,-3 z M898,11 l3,3 l-3,3 l-3,-3 z" fill="#404040"/><path d="M891,12 l2,2 l4,-5" stroke="#404040" stroke-width="1.3" fill="none"/>
<text x="936.2" y="13.8" font-family="'Liberation Sans', Arial, sans-serif" font-size="9.4px" fill="#202020">M1</text>
<text x="964.5" y="13.8" font-family="'Liberation Sans', Arial, sans-serif" font-size="9.4px" fill="#202020">M5</text>
<text x="990.4000000000001" y="13.8" font-family="'Liberation Sans', Arial, sans-serif" font-size="9.4px" fill="#202020">M15</text>
<text x="1018.0" y="13.8" font-family="'Liberation Sans', Arial, sans-serif" font-size="9.4px" fill="#202020">M30</text>
<text x="1049.4" y="13.8" font-family="'Liberation Sans', Arial, sans-serif" font-size="9.4px" fill="#202020">H1</text>
<text x="1076.0" y="13.8" font-family="'Liberation Sans', Arial, sans-serif" font-size="9.4px" fill="#202020">H4</text>
<text x="1104.7" y="13.8" font-family="'Liberation Sans', Arial, sans-serif" font-size="9.4px" fill="#202020">D1</text>
<text x="1132.6000000000001" y="13.8" font-family="'Liberation Sans', Arial, sans-serif" font-size="9.4px" fill="#202020">W1</text>
<text x="1159.0" y="13.8" font-family="'Liberation Sans', Arial, sans-serif" font-size="9.4px" fill="#202020">MN</text>
<circle cx="1653" cy="7" r="4.2" fill="none" stroke="#2a60d0" stroke-width="1.6"/><path d="M1650,10 L1645.5,14.5" stroke="#2a60d0" stroke-width="2.4" stroke-linecap="round"/>
<ellipse cx="1675" cy="12.5" rx="5.5" ry="4" fill="#f4f4f4" stroke="#a0a0a0" stroke-width="0.8"/><path d="M1672,16 l-1,3 l3,-2.5" fill="#f4f4f4" stroke="#a0a0a0" stroke-width="0.6"/>
<circle cx="1684" cy="7.5" r="7.5" fill="#d83020"/>
<text x="1681" y="12" font-family="'Liberation Sans', Arial, sans-serif" font-size="11px" fill="#fff">1</text>
</svg>
</body></html>
